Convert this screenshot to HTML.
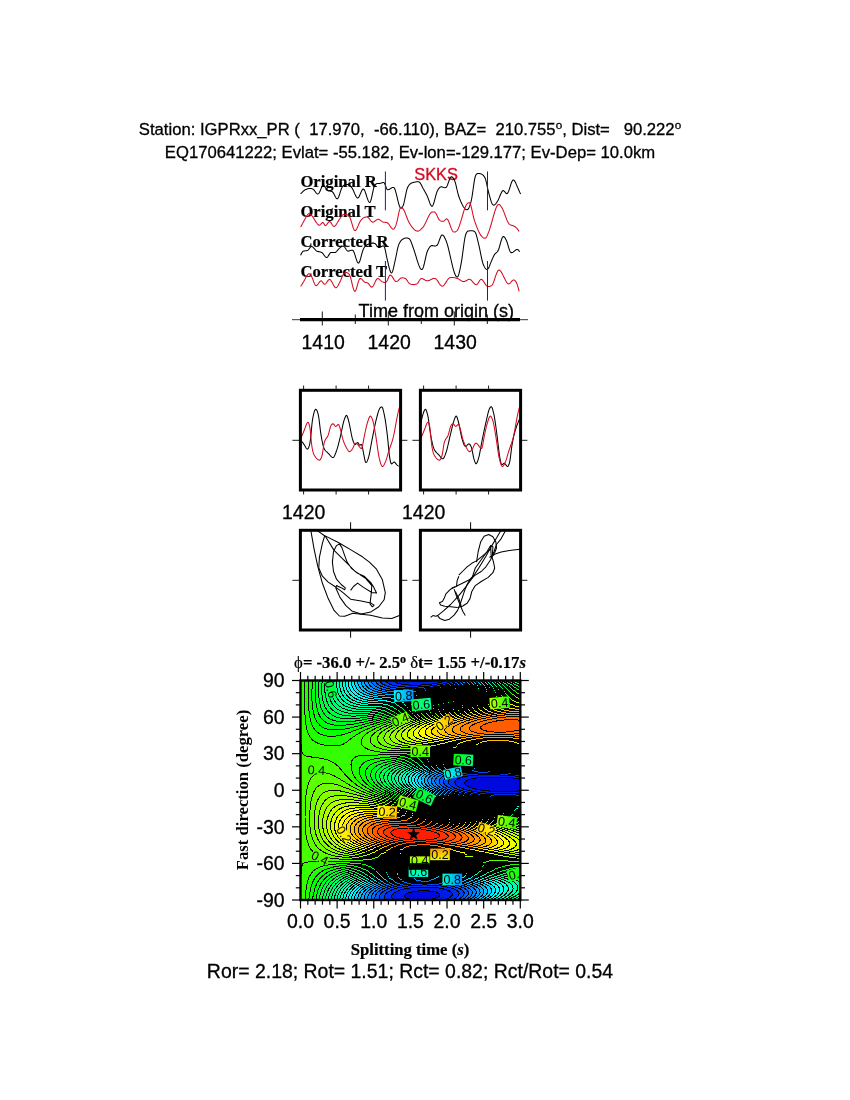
<!DOCTYPE html>
<html><head><meta charset="utf-8"><title>SWS IGPRxx_PR</title>
<style>html,body{margin:0;padding:0;background:#fff}svg{display:block}</style></head>
<body>
<svg width="850" height="1100" viewBox="0 0 850 1100">
<rect x="0" y="0" width="850" height="1100" fill="#ffffff"/>
<text x="410.00" y="134.60" font-family='"Liberation Sans", Helvetica, Arial, sans-serif' font-size="16.67" text-anchor="middle" font-weight="normal" fill="#000" xml:space="preserve" style="white-space:pre"  stroke="#000" stroke-width="0.3">Station: IGPRxx_PR (  17.970,  -66.110), BAZ=  210.755<tspan font-size="11.7" dy="-5.5">o</tspan><tspan dy="5.5">, Dist=   90.222</tspan><tspan font-size="11.7" dy="-5.5">o</tspan></text>
<text x="410.00" y="157.50" font-family='"Liberation Sans", Helvetica, Arial, sans-serif' font-size="16.67" text-anchor="middle" font-weight="normal" fill="#000" xml:space="preserve" style="white-space:pre"  stroke="#000" stroke-width="0.3">EQ170641222; Evlat= -55.182, Ev-lon=-129.177; Ev-Dep= 10.0km</text>
<text x="300.40" y="186.80" font-family='"Liberation Serif", "Times New Roman", serif' font-size="16.67" text-anchor="start" font-weight="bold" fill="#000" xml:space="preserve" style="white-space:pre"  stroke="#000" stroke-width="0.2">Original R</text>
<text x="300.40" y="216.80" font-family='"Liberation Serif", "Times New Roman", serif' font-size="16.67" text-anchor="start" font-weight="bold" fill="#000" xml:space="preserve" style="white-space:pre"  stroke="#000" stroke-width="0.2">Original T</text>
<text x="300.40" y="246.80" font-family='"Liberation Serif", "Times New Roman", serif' font-size="16.67" text-anchor="start" font-weight="bold" fill="#000" xml:space="preserve" style="white-space:pre"  stroke="#000" stroke-width="0.2">Corrected R</text>
<text x="300.40" y="276.80" font-family='"Liberation Serif", "Times New Roman", serif' font-size="16.67" text-anchor="start" font-weight="bold" fill="#000" xml:space="preserve" style="white-space:pre"  stroke="#000" stroke-width="0.2">Corrected T</text>
<text x="436.10" y="179.80" font-family='"Liberation Sans", Helvetica, Arial, sans-serif' font-size="16.4" text-anchor="middle" font-weight="normal" fill="#d40a22" xml:space="preserve" style="white-space:pre"  stroke="#d40a22" stroke-width="0.3">SKKS</text>
<polyline points="300.6,193.9 301.1,193.4 301.6,192.9 302.1,192.3 302.6,191.8 303.1,191.3 303.6,190.9 304.1,190.5 304.6,190.1 305.1,189.8 305.6,189.6 306.1,189.4 306.6,189.2 307.1,189.0 307.6,188.8 308.1,188.7 308.6,188.6 309.1,188.5 309.6,188.5 310.1,188.4 310.6,188.5 311.1,188.5 311.6,188.6 312.1,188.7 312.6,188.9 313.1,189.2 313.6,189.6 314.1,190.2 314.6,190.8 315.1,191.5 315.6,192.2 316.1,192.8 316.6,193.3 317.1,193.7 317.6,193.9 318.1,193.9 318.6,193.6 319.1,193.0 319.6,192.1 320.1,191.0 320.6,189.7 321.1,188.5 321.6,187.4 322.1,186.5 322.6,185.8 323.1,185.4 323.6,185.5 324.1,185.8 324.6,186.4 325.1,187.2 325.6,188.0 326.1,188.8 326.6,189.6 327.1,190.2 327.6,190.5 328.1,190.7 328.6,190.9 329.1,191.0 329.6,191.0 330.1,191.1 330.6,191.1 331.1,191.2 331.6,191.4 332.1,191.6 332.6,192.0 333.1,192.6 333.6,193.4 334.1,194.3 334.6,195.3 335.1,196.3 335.6,197.2 336.1,198.0 336.6,198.6 337.1,198.8 337.6,198.7 338.1,198.0 338.6,197.0 339.1,195.8 339.6,194.3 340.1,192.7 340.6,191.1 341.1,189.5 341.6,188.2 342.1,187.1 342.6,186.4 343.1,185.9 343.6,185.5 344.1,185.1 344.6,184.9 345.1,184.7 345.6,184.6 346.1,184.5 346.6,184.5 347.1,184.5 347.6,184.6 348.1,184.7 348.6,185.0 349.1,185.2 349.6,185.6 350.1,186.0 350.6,186.4 351.1,186.9 351.6,187.5 352.1,188.1 352.6,188.9 353.1,189.9 353.6,191.0 354.1,192.2 354.6,193.4 355.1,194.5 355.6,195.6 356.1,196.5 356.6,197.3 357.1,197.8 357.6,198.0 358.1,197.9 358.6,197.4 359.1,196.6 359.6,195.6 360.1,194.4 360.6,193.2 361.1,192.1 361.6,191.0 362.1,190.0 362.6,189.4 363.1,189.0 363.6,189.1 364.1,189.6 364.6,190.4 365.1,191.6 365.6,193.0 366.1,194.5 366.6,196.1 367.1,197.7 367.6,199.1 368.1,200.4 368.6,201.5 369.1,202.1 369.6,202.4 370.1,202.2 370.6,201.2 371.1,199.6 371.6,197.6 372.1,195.3 372.6,192.9 373.1,190.6 373.6,188.5 374.1,186.7 374.6,185.6 375.1,184.9 375.6,184.4 376.1,184.0 376.6,183.8 377.1,183.6 377.6,183.5 378.1,183.5 378.6,183.5 379.1,183.4 379.6,183.4 380.1,183.4 380.6,183.2 381.1,183.1 381.6,182.9 382.1,182.7 382.6,182.5 383.1,182.5 383.6,182.5 384.1,182.7 384.6,183.5 385.1,184.6 385.6,185.9 386.1,187.3 386.6,188.5 387.1,189.4 387.6,189.7 388.1,189.7 388.6,189.6 389.1,189.4 389.6,189.2 390.1,188.8 390.6,188.5 391.1,188.2 391.6,187.9 392.1,187.6 392.6,187.4 393.1,187.4 393.6,187.4 394.1,187.7 394.6,188.5 395.1,189.7 395.6,191.3 396.1,193.1 396.6,195.1 397.1,197.2 397.6,199.3 398.1,201.4 398.6,203.3 399.1,205.0 399.6,206.4 400.1,207.5 400.6,208.1 401.1,208.2 401.6,208.0 402.1,207.4 402.6,206.6 403.1,205.7 403.6,204.3 404.1,202.4 404.6,200.2 405.1,197.7 405.6,195.3 406.1,192.8 406.6,190.7 407.1,188.8 407.6,187.5 408.1,186.5 408.6,185.7 409.1,185.0 409.6,184.4 410.1,184.0 410.6,183.6 411.1,183.3 411.6,183.0 412.1,182.8 412.6,182.7 413.1,182.6 413.6,182.5 414.1,182.3 414.6,182.2 415.1,182.1 415.6,181.9 416.1,181.8 416.6,181.8 417.1,181.7 417.6,181.7 418.1,181.7 418.6,181.8 419.1,181.9 419.6,182.3 420.1,182.9 420.6,183.7 421.1,184.6 421.6,185.6 422.1,186.6 422.6,187.6 423.1,188.5 423.6,189.3 424.1,190.2 424.6,191.1 425.1,192.0 425.6,192.9 426.1,193.8 426.6,194.8 427.1,195.8 427.6,196.9 428.1,198.2 428.6,199.6 429.1,201.0 429.6,202.4 430.1,203.7 430.6,204.8 431.1,205.7 431.6,206.2 432.1,206.3 432.6,205.8 433.1,204.9 433.6,203.6 434.1,202.0 434.6,200.2 435.1,198.3 435.6,196.4 436.1,194.6 436.6,192.9 437.1,191.5 437.6,190.4 438.1,189.5 438.6,188.8 439.1,188.1 439.6,187.6 440.1,187.2 440.6,186.9 441.1,186.8 441.6,186.8 442.1,187.0 442.6,187.1 443.1,187.3 443.6,187.4 444.1,187.6 444.6,187.7 445.1,187.7 445.6,187.6 446.1,187.4 446.6,186.8 447.1,185.9 447.6,184.7 448.1,183.3 448.6,181.9 449.1,180.5 449.6,179.2 450.1,178.1 450.6,177.3 451.1,176.8 451.6,176.8 452.1,177.0 452.6,177.4 453.1,177.9 453.6,178.7 454.1,179.5 454.6,180.6 455.1,182.0 455.6,183.7 456.1,185.7 456.6,187.8 457.1,190.0 457.6,192.1 458.1,194.1 458.6,195.8 459.1,197.2 459.6,198.6 460.1,199.8 460.6,201.1 461.1,202.2 461.6,203.3 462.1,204.4 462.6,205.3 463.1,206.2 463.6,207.0 464.1,207.7 464.6,208.3 465.1,208.8 465.6,209.2 466.1,209.5 466.6,209.7 467.1,209.7 467.6,209.6 468.1,209.2 468.6,208.4 469.1,207.4 469.6,206.2 470.1,204.7 470.6,203.1 471.1,201.3 471.6,199.0 472.1,196.2 472.6,192.8 473.1,189.3 473.6,185.8 474.1,182.4 474.6,179.4 475.1,177.1 475.6,175.5 476.1,174.7 476.6,174.1 477.1,173.7 477.6,173.5 478.1,173.5 478.6,173.5 479.1,173.5 479.6,173.6 480.1,173.7 480.6,173.8 481.1,173.9 481.6,174.1 482.1,174.4 482.6,174.8 483.1,175.2 483.6,175.7 484.1,176.4 484.6,177.1 485.1,178.0 485.6,179.4 486.1,181.3 486.6,183.5 487.1,185.8 487.6,188.2 488.1,190.5 488.6,192.5 489.1,194.3 489.6,196.1 490.1,197.9 490.6,199.6 491.1,201.2 491.6,202.5 492.1,203.7 492.6,204.5 493.1,205.0 493.6,205.1 494.1,205.1 494.6,204.8 495.1,204.4 495.6,203.9 496.1,203.3 496.6,202.6 497.1,201.8 497.6,201.0 498.1,200.2 498.6,199.1 499.1,198.0 499.6,196.8 500.1,195.5 500.6,194.3 501.1,193.2 501.6,192.2 502.1,191.4 502.6,190.8 503.1,190.6 503.6,190.7 504.1,191.1 504.6,191.6 505.1,192.2 505.6,192.8 506.1,193.3 506.6,193.6 507.1,193.6 507.6,193.2 508.1,192.4 508.6,191.3 509.1,189.9 509.6,188.4 510.1,186.8 510.6,185.2 511.1,183.7 511.6,182.3 512.1,181.2 512.6,180.3 513.1,179.9 513.6,179.9 514.1,180.3 514.6,180.9 515.1,181.8 515.6,182.8 516.1,183.9 516.6,185.1 517.1,186.2 517.6,187.4 518.1,188.5 518.6,189.7 519.1,190.8 519.6,191.9 520.1,193.0 520.6,194.0" fill="none" stroke="#000" stroke-width="1.05" stroke-linejoin="round" />
<polyline points="300.6,227.1 301.1,226.2 301.6,225.3 302.1,224.4 302.6,223.5 303.1,222.5 303.6,221.6 304.1,220.7 304.6,219.8 305.1,218.8 305.6,217.9 306.1,216.9 306.6,216.1 307.1,215.3 307.6,214.6 308.1,214.1 308.6,213.7 309.1,213.6 309.6,213.7 310.1,213.9 310.6,214.3 311.1,214.8 311.6,215.4 312.1,216.0 312.6,216.6 313.1,217.3 313.6,218.1 314.1,218.9 314.6,219.8 315.1,220.6 315.6,221.4 316.1,222.1 316.6,222.8 317.1,223.5 317.6,224.1 318.1,224.6 318.6,225.1 319.1,225.3 319.6,225.3 320.1,225.0 320.6,224.5 321.1,223.9 321.6,223.3 322.1,222.8 322.6,222.5 323.1,222.5 323.6,223.1 324.1,224.0 324.6,224.9 325.1,225.5 325.6,225.6 326.1,225.3 326.6,224.8 327.1,224.1 327.6,223.4 328.1,222.7 328.6,222.1 329.1,221.6 329.6,221.5 330.1,221.7 330.6,222.2 331.1,222.9 331.6,223.7 332.1,224.6 332.6,225.3 333.1,225.9 333.6,226.3 334.1,226.4 334.6,226.3 335.1,225.9 335.6,225.4 336.1,224.7 336.6,224.0 337.1,223.1 337.6,222.3 338.1,221.4 338.6,220.5 339.1,219.7 339.6,219.0 340.1,218.3 340.6,217.5 341.1,216.8 341.6,216.1 342.1,215.5 342.6,215.0 343.1,214.7 343.6,214.5 344.1,214.4 344.6,214.3 345.1,214.3 345.6,214.3 346.1,214.4 346.6,214.5 347.1,214.7 347.6,215.0 348.1,215.3 348.6,215.8 349.1,216.3 349.6,216.9 350.1,217.9 350.6,219.3 351.1,220.8 351.6,222.5 352.1,224.2 352.6,225.9 353.1,227.5 353.6,228.8 354.1,229.8 354.6,230.4 355.1,230.6 355.6,230.4 356.1,229.9 356.6,229.1 357.1,228.1 357.6,227.0 358.1,225.9 358.6,224.7 359.1,223.5 359.6,222.4 360.1,221.4 360.6,220.7 361.1,220.1 361.6,219.5 362.1,219.0 362.6,218.6 363.1,218.2 363.6,217.8 364.1,217.6 364.6,217.3 365.1,217.2 365.6,217.0 366.1,217.0 366.6,217.0 367.1,217.1 367.6,217.2 368.1,217.5 368.6,217.9 369.1,218.5 369.6,219.1 370.1,219.8 370.6,220.5 371.1,221.1 371.6,221.6 372.1,222.0 372.6,222.1 373.1,222.1 373.6,221.9 374.1,221.7 374.6,221.3 375.1,221.0 375.6,220.6 376.1,220.2 376.6,219.9 377.1,219.6 377.6,219.4 378.1,219.3 378.6,219.3 379.1,219.5 379.6,219.7 380.1,220.1 380.6,220.4 381.1,220.8 381.6,221.2 382.1,221.6 382.6,221.9 383.1,222.1 383.6,222.2 384.1,222.3 384.6,222.3 385.1,222.3 385.6,222.4 386.1,222.4 386.6,222.5 387.1,222.7 387.6,222.9 388.1,223.3 388.6,223.9 389.1,224.5 389.6,225.3 390.1,226.1 390.6,226.8 391.1,227.6 391.6,228.2 392.1,228.7 392.6,229.1 393.1,229.2 393.6,229.1 394.1,228.6 394.6,227.9 395.1,227.0 395.6,225.9 396.1,224.7 396.6,223.1 397.1,221.1 397.6,218.8 398.1,216.4 398.6,214.0 399.1,211.7 399.6,209.8 400.1,208.3 400.6,207.4 401.1,207.2 401.6,207.4 402.1,207.7 402.6,208.3 403.1,208.9 403.6,209.6 404.1,210.6 404.6,211.6 405.1,212.8 405.6,214.1 406.1,215.4 406.6,216.7 407.1,218.0 407.6,219.3 408.1,220.5 408.6,221.6 409.1,222.5 409.6,223.4 410.1,224.2 410.6,224.9 411.1,225.7 411.6,226.4 412.1,227.1 412.6,227.7 413.1,228.3 413.6,228.9 414.1,229.4 414.6,229.8 415.1,230.2 415.6,230.5 416.1,230.8 416.6,231.0 417.1,231.1 417.6,231.1 418.1,231.0 418.6,230.9 419.1,230.7 419.6,230.4 420.1,230.1 420.6,229.7 421.1,229.2 421.6,228.7 422.1,228.2 422.6,227.6 423.1,227.1 423.6,226.4 424.1,225.6 424.6,224.7 425.1,223.7 425.6,222.7 426.1,221.7 426.6,220.6 427.1,219.5 427.6,218.4 428.1,217.3 428.6,216.3 429.1,215.4 429.6,214.5 430.1,213.8 430.6,213.1 431.1,212.6 431.6,212.2 432.1,212.0 432.6,211.9 433.1,211.9 433.6,211.9 434.1,211.9 434.6,212.0 435.1,212.4 435.6,213.0 436.1,213.8 436.6,214.8 437.1,215.8 437.6,216.9 438.1,217.9 438.6,218.9 439.1,219.7 439.6,220.2 440.1,220.6 440.6,220.9 441.1,221.1 441.6,221.2 442.1,221.3 442.6,221.3 443.1,221.3 443.6,221.2 444.1,220.9 444.6,220.5 445.1,220.0 445.6,219.5 446.1,219.1 446.6,218.9 447.1,219.1 447.6,219.5 448.1,220.3 448.6,221.3 449.1,222.5 449.6,223.8 450.1,225.2 450.6,226.5 451.1,227.9 451.6,229.1 452.1,230.2 452.6,231.0 453.1,231.6 453.6,231.9 454.1,232.0 454.6,232.0 455.1,231.9 455.6,231.7 456.1,231.4 456.6,231.1 457.1,230.6 457.6,229.9 458.1,228.9 458.6,227.8 459.1,226.6 459.6,225.2 460.1,223.7 460.6,222.1 461.1,220.4 461.6,218.7 462.1,217.0 462.6,215.3 463.1,213.6 463.6,211.9 464.1,210.4 464.6,208.9 465.1,207.5 465.6,206.3 466.1,205.3 466.6,204.4 467.1,203.8 467.6,203.4 468.1,203.0 468.6,202.8 469.1,202.7 469.6,202.8 470.1,203.4 470.6,204.6 471.1,206.3 471.6,208.3 472.1,210.6 472.6,213.0 473.1,215.3 473.6,217.5 474.1,219.3 474.6,220.8 475.1,222.3 475.6,223.7 476.1,225.1 476.6,226.4 477.1,227.7 477.6,228.9 478.1,230.1 478.6,231.2 479.1,232.2 479.6,233.2 480.1,234.1 480.6,234.9 481.1,235.6 481.6,236.3 482.1,236.8 482.6,237.3 483.1,237.7 483.6,238.0 484.1,238.1 484.6,238.2 485.1,238.2 485.6,238.0 486.1,237.7 486.6,237.0 487.1,235.9 487.6,234.7 488.1,233.4 488.6,232.1 489.1,230.9 489.6,229.4 490.1,227.9 490.6,226.3 491.1,224.5 491.6,222.8 492.1,220.9 492.6,219.1 493.1,217.3 493.6,215.5 494.1,213.8 494.6,212.1 495.1,210.6 495.6,209.2 496.1,207.9 496.6,206.8 497.1,205.8 497.6,205.1 498.1,204.6 498.6,204.4 499.1,204.5 499.6,204.7 500.1,205.2 500.6,205.8 501.1,206.5 501.6,207.2 502.1,208.1 502.6,209.0 503.1,210.1 503.6,211.3 504.1,212.6 504.6,213.9 505.1,215.2 505.6,216.6 506.1,217.9 506.6,219.2 507.1,220.4 507.6,221.5 508.1,222.4 508.6,223.3 509.1,223.9 509.6,224.4 510.1,224.7 510.6,224.9 511.1,225.1 511.6,225.3 512.1,225.4 512.6,225.6 513.1,225.8 513.6,226.0 514.1,226.2 514.6,226.5 515.1,226.8 515.6,227.1 516.1,227.6 516.6,228.0 517.1,228.6 517.6,229.2 518.1,229.9 518.6,230.7 519.1,231.5" fill="none" stroke="#d40a22" stroke-width="1.05" stroke-linejoin="round" />
<polyline points="300.6,255.4 301.1,254.3 301.6,253.2 302.1,252.4 302.6,251.7 303.1,251.3 303.6,251.0 304.1,250.9 304.6,250.9 305.1,250.8 305.6,250.8 306.1,250.8 306.6,250.7 307.1,250.6 307.6,250.4 308.1,250.1 308.6,249.5 309.1,248.9 309.6,248.2 310.1,247.6 310.6,247.0 311.1,246.6 311.6,246.5 312.1,246.6 312.6,246.9 313.1,247.3 313.6,247.8 314.1,248.3 314.6,248.9 315.1,249.5 315.6,250.1 316.1,250.6 316.6,251.0 317.1,251.2 317.6,251.4 318.1,251.6 318.6,251.6 319.1,251.7 319.6,251.8 320.1,251.9 320.6,252.0 321.1,252.2 321.6,252.4 322.1,252.7 322.6,253.2 323.1,253.8 323.6,254.5 324.1,255.2 324.6,255.9 325.1,256.5 325.6,257.0 326.1,257.4 326.6,257.5 327.1,257.4 327.6,256.9 328.1,256.2 328.6,255.4 329.1,254.6 329.6,253.8 330.1,253.1 330.6,252.6 331.1,252.5 331.6,252.4 332.1,252.4 332.6,252.4 333.1,252.4 333.6,252.5 334.1,252.5 334.6,252.5 335.1,252.5 335.6,252.4 336.1,252.0 336.6,251.5 337.1,250.9 337.6,250.3 338.1,249.6 338.6,249.1 339.1,248.6 339.6,248.2 340.1,247.7 340.6,247.3 341.1,246.9 341.6,246.6 342.1,246.3 342.6,246.2 343.1,246.1 343.6,246.2 344.1,246.5 344.6,247.0 345.1,247.7 345.6,248.5 346.1,249.3 346.6,250.0 347.1,250.6 347.6,251.0 348.1,251.1 348.6,251.1 349.1,250.9 349.6,250.8 350.1,250.6 350.6,250.4 351.1,250.3 351.6,250.2 352.1,250.2 352.6,250.3 353.1,250.6 353.6,251.4 354.1,252.5 354.6,253.9 355.1,255.4 355.6,257.1 356.1,258.7 356.6,260.1 357.1,261.4 357.6,262.4 358.1,263.0 358.6,263.1 359.1,262.6 359.6,261.6 360.1,260.2 360.6,258.5 361.1,256.6 361.6,254.7 362.1,252.8 362.6,251.1 363.1,249.7 363.6,248.6 364.1,247.7 364.6,247.0 365.1,246.3 365.6,245.8 366.1,245.3 366.6,245.0 367.1,244.8 367.6,244.5 368.1,244.3 368.6,244.1 369.1,243.9 369.6,243.8 370.1,243.6 370.6,243.4 371.1,243.3 371.6,243.2 372.1,243.1 372.6,243.1 373.1,243.1 373.6,243.1 374.1,243.2 374.6,243.4 375.1,243.6 375.6,244.1 376.1,244.7 376.6,245.4 377.1,246.1 377.6,246.7 378.1,247.2 378.6,247.5 379.1,247.6 379.6,247.5 380.1,247.3 380.6,247.0 381.1,246.7 381.6,246.4 382.1,246.1 382.6,246.0 383.1,245.9 383.6,246.0 384.1,246.4 384.6,247.5 385.1,249.3 385.6,251.6 386.1,254.1 386.6,256.6 387.1,259.0 387.6,261.1 388.1,263.2 388.6,265.3 389.1,267.3 389.6,269.2 390.1,270.8 390.6,272.0 391.1,272.8 391.6,273.0 392.1,272.5 392.6,271.4 393.1,269.7 393.6,267.7 394.1,265.4 394.6,263.0 395.1,260.7 395.6,258.5 396.1,256.0 396.6,253.5 397.1,251.0 397.6,248.7 398.1,246.6 398.6,245.1 399.1,243.9 399.6,242.8 400.1,242.0 400.6,241.2 401.1,240.6 401.6,240.0 402.1,239.6 402.6,239.3 403.1,239.0 403.6,238.8 404.1,238.5 404.6,238.3 405.1,238.2 405.6,238.1 406.1,238.0 406.6,238.0 407.1,238.0 407.6,238.1 408.1,238.3 408.6,238.5 409.1,238.7 409.6,239.2 410.1,239.8 410.6,240.8 411.1,241.9 411.6,243.2 412.1,244.6 412.6,246.0 413.1,247.5 413.6,248.9 414.1,250.3 414.6,251.8 415.1,253.4 415.6,255.1 416.1,256.7 416.6,258.4 417.1,260.1 417.6,261.7 418.1,263.2 418.6,264.6 419.1,265.9 419.6,267.1 420.1,268.0 420.6,268.8 421.1,269.3 421.6,269.5 422.1,269.4 422.6,269.0 423.1,267.9 423.6,266.4 424.1,264.5 424.6,262.4 425.1,260.2 425.6,257.9 426.1,255.7 426.6,253.7 427.1,252.0 427.6,250.8 428.1,249.7 428.6,248.8 429.1,248.0 429.6,247.3 430.1,246.6 430.6,246.2 431.1,245.8 431.6,245.6 432.1,245.6 432.6,245.6 433.1,245.7 433.6,245.8 434.1,245.9 434.6,245.9 435.1,245.9 435.6,245.9 436.1,245.8 436.6,245.6 437.1,245.3 437.6,244.6 438.1,243.5 438.6,242.3 439.1,240.9 439.6,239.5 440.1,238.2 440.6,237.0 441.1,235.9 441.6,235.2 442.1,234.9 442.6,234.9 443.1,235.3 443.6,235.8 444.1,236.6 444.6,237.5 445.1,238.5 445.6,239.6 446.1,240.8 446.6,242.1 447.1,243.7 447.6,245.4 448.1,247.2 448.6,249.2 449.1,251.3 449.6,253.4 450.1,255.6 450.6,257.8 451.1,260.0 451.6,262.2 452.1,264.3 452.6,266.4 453.1,268.3 453.6,270.1 454.1,271.8 454.6,273.3 455.1,274.5 455.6,275.6 456.1,276.3 456.6,276.8 457.1,277.0 457.6,276.9 458.1,276.2 458.6,274.9 459.1,273.2 459.6,271.1 460.1,268.8 460.6,266.3 461.1,263.7 461.6,260.9 462.1,257.7 462.6,254.0 463.1,250.2 463.6,246.4 464.1,242.8 464.6,239.5 465.1,236.8 465.6,234.8 466.1,233.5 466.6,232.5 467.1,231.8 467.6,231.3 468.1,231.1 468.6,231.0 469.1,230.9 469.6,230.8 470.1,230.8 470.6,230.7 471.1,230.7 471.6,230.7 472.1,230.7 472.6,230.8 473.1,230.9 473.6,231.1 474.1,231.3 474.6,231.7 475.1,232.1 475.6,233.0 476.1,234.3 476.6,235.9 477.1,237.8 477.6,239.9 478.1,242.0 478.6,244.1 479.1,246.1 479.6,248.4 480.1,250.8 480.6,253.3 481.1,255.8 481.6,258.2 482.1,260.5 482.6,262.4 483.1,264.0 483.6,265.3 484.1,266.3 484.6,267.2 485.1,268.0 485.6,268.7 486.1,269.1 486.6,269.4 487.1,269.4 487.6,269.2 488.1,268.7 488.6,267.9 489.1,266.9 489.6,265.7 490.1,264.4 490.6,263.1 491.1,261.9 491.6,260.7 492.1,259.5 492.6,258.4 493.1,257.2 493.6,256.2 494.1,255.2 494.6,254.4 495.1,253.7 495.6,253.3 496.1,252.9 496.6,252.5 497.1,252.0 497.6,251.4 498.1,250.6 498.6,249.5 499.1,248.0 499.6,246.3 500.1,244.5 500.6,242.7 501.1,241.0 501.6,239.4 502.1,238.0 502.6,237.1 503.1,236.5 503.6,236.5 504.1,236.8 504.6,237.3 505.1,238.0 505.6,238.9 506.1,239.9 506.6,241.0 507.1,242.3 507.6,243.9 508.1,245.6 508.6,247.3 509.1,248.9 509.6,250.4 510.1,251.5 510.6,252.3 511.1,252.6 511.6,252.6 512.1,252.6 512.6,252.4 513.1,252.1 513.6,251.7 514.1,251.3 514.6,250.9 515.1,250.5 515.6,250.1 516.1,249.8 516.6,249.6 517.1,249.5 517.6,249.6 518.1,249.8 518.6,250.3 519.1,251.0 519.6,251.8" fill="none" stroke="#000" stroke-width="1.05" stroke-linejoin="round" />
<polyline points="300.6,286.4 301.1,285.7 301.6,285.0 302.1,284.2 302.6,283.4 303.1,282.5 303.6,281.7 304.1,280.8 304.6,279.9 305.1,279.0 305.6,278.0 306.1,277.1 306.6,276.2 307.1,275.4 307.6,274.7 308.1,274.1 308.6,273.8 309.1,273.7 309.6,273.9 310.1,274.3 310.6,274.9 311.1,275.7 311.6,276.5 312.1,277.6 312.6,278.8 313.1,280.1 313.6,281.5 314.1,282.7 314.6,283.9 315.1,284.8 315.6,285.4 316.1,285.7 316.6,285.6 317.1,285.2 317.6,284.7 318.1,284.0 318.6,283.3 319.1,282.5 319.6,281.9 320.1,281.3 320.6,280.9 321.1,280.8 321.6,281.0 322.1,281.5 322.6,282.2 323.1,282.9 323.6,283.6 324.1,284.1 324.6,284.3 325.1,284.2 325.6,283.8 326.1,283.3 326.6,282.6 327.1,281.8 327.6,281.1 328.1,280.4 328.6,279.9 329.1,279.5 329.6,279.4 330.1,279.6 330.6,280.0 331.1,280.7 331.6,281.5 332.1,282.4 332.6,283.3 333.1,284.3 333.6,285.3 334.1,286.1 334.6,286.9 335.1,287.4 335.6,287.7 336.1,287.8 336.6,287.5 337.1,287.0 337.6,286.3 338.1,285.5 338.6,284.5 339.1,283.5 339.6,282.5 340.1,281.5 340.6,280.5 341.1,279.3 341.6,278.1 342.1,276.8 342.6,275.7 343.1,274.7 343.6,273.8 344.1,273.2 344.6,272.9 345.1,272.7 345.6,272.6 346.1,272.5 346.6,272.6 347.1,272.7 347.6,272.9 348.1,273.2 348.6,273.6 349.1,274.1 349.6,274.9 350.1,276.1 350.6,277.7 351.1,279.6 351.6,281.7 352.1,283.8 352.6,285.9 353.1,287.8 353.6,289.4 354.1,290.6 354.6,291.3 355.1,291.3 355.6,290.7 356.1,289.6 356.6,288.1 357.1,286.4 357.6,284.6 358.1,282.7 358.6,281.1 359.1,279.8 359.6,278.9 360.1,278.5 360.6,278.5 361.1,278.7 361.6,279.0 362.1,279.5 362.6,280.1 363.1,280.7 363.6,281.2 364.1,281.7 364.6,282.1 365.1,282.3 365.6,282.5 366.1,282.5 366.6,282.6 367.1,282.7 367.6,282.9 368.1,283.2 368.6,283.8 369.1,284.4 369.6,285.1 370.1,285.8 370.6,286.3 371.1,286.8 371.6,287.1 372.1,287.1 372.6,286.7 373.1,286.1 373.6,285.3 374.1,284.3 374.6,283.2 375.1,282.1 375.6,281.0 376.1,280.1 376.6,279.3 377.1,278.8 377.6,278.6 378.1,278.6 378.6,278.8 379.1,279.1 379.6,279.6 380.1,280.0 380.6,280.5 381.1,281.0 381.6,281.4 382.1,281.7 382.6,281.9 383.1,282.1 383.6,282.3 384.1,282.4 384.6,282.5 385.1,282.5 385.6,282.4 386.1,282.1 386.6,281.6 387.1,280.8 387.6,279.7 388.1,278.5 388.6,277.3 389.1,276.3 389.6,275.5 390.1,275.1 390.6,275.1 391.1,275.4 391.6,275.9 392.1,276.5 392.6,277.3 393.1,278.1 393.6,278.9 394.1,279.7 394.6,280.4 395.1,281.0 395.6,281.4 396.1,281.5 396.6,281.5 397.1,281.3 397.6,281.0 398.1,280.6 398.6,280.1 399.1,279.6 399.6,279.1 400.1,278.7 400.6,278.3 401.1,278.0 401.6,277.9 402.1,277.8 402.6,277.8 403.1,277.8 403.6,277.9 404.1,278.0 404.6,278.2 405.1,278.4 405.6,278.6 406.1,279.1 406.6,279.7 407.1,280.4 407.6,281.2 408.1,282.0 408.6,282.7 409.1,283.3 409.6,283.7 410.1,284.0 410.6,284.1 411.1,284.3 411.6,284.4 412.1,284.5 412.6,284.5 413.1,284.6 413.6,284.6 414.1,284.5 414.6,284.5 415.1,284.4 415.6,284.3 416.1,284.2 416.6,284.0 417.1,283.7 417.6,283.3 418.1,282.6 418.6,281.9 419.1,281.0 419.6,280.3 420.1,279.5 420.6,279.0 421.1,278.6 421.6,278.5 422.1,278.5 422.6,278.7 423.1,278.9 423.6,279.2 424.1,279.5 424.6,279.8 425.1,280.1 425.6,280.4 426.1,280.6 426.6,280.8 427.1,280.8 427.6,280.8 428.1,280.7 428.6,280.5 429.1,280.4 429.6,280.2 430.1,279.9 430.6,279.7 431.1,279.4 431.6,279.2 432.1,279.0 432.6,278.8 433.1,278.6 433.6,278.5 434.1,278.4 434.6,278.4 435.1,278.5 435.6,278.7 436.1,279.0 436.6,279.5 437.1,280.1 437.6,280.8 438.1,281.6 438.6,282.4 439.1,283.2 439.6,284.0 440.1,284.7 440.6,285.3 441.1,285.7 441.6,286.1 442.1,286.2 442.6,286.1 443.1,285.9 443.6,285.5 444.1,285.0 444.6,284.3 445.1,283.6 445.6,282.9 446.1,282.1 446.6,281.3 447.1,280.5 447.6,279.8 448.1,279.1 448.6,278.6 449.1,278.1 449.6,277.8 450.1,277.7 450.6,277.5 451.1,277.5 451.6,277.4 452.1,277.4 452.6,277.4 453.1,277.4 453.6,277.5 454.1,277.6 454.6,277.7 455.1,277.8 455.6,277.9 456.1,278.1 456.6,278.2 457.1,278.4 457.6,278.6 458.1,278.8 458.6,279.1 459.1,279.4 459.6,279.7 460.1,280.0 460.6,280.3 461.1,280.6 461.6,280.9 462.1,281.2 462.6,281.4 463.1,281.5 463.6,281.6 464.1,281.6 464.6,281.5 465.1,281.3 465.6,281.1 466.1,280.8 466.6,280.5 467.1,280.2 467.6,279.9 468.1,279.6 468.6,279.4 469.1,279.3 469.6,279.3 470.1,279.4 470.6,279.7 471.1,280.1 471.6,280.6 472.1,281.2 472.6,281.7 473.1,282.3 473.6,282.9 474.1,283.5 474.6,283.9 475.1,284.3 475.6,284.6 476.1,284.7 476.6,284.7 477.1,284.4 477.6,283.8 478.1,283.1 478.6,282.3 479.1,281.5 479.6,280.7 480.1,280.0 480.6,279.5 481.1,279.3 481.6,279.4 482.1,279.7 482.6,280.1 483.1,280.7 483.6,281.5 484.1,282.3 484.6,283.1 485.1,283.9 485.6,284.6 486.1,285.3 486.6,285.8 487.1,286.2 487.6,286.3 488.1,286.5 488.6,286.5 489.1,286.5 489.6,286.5 490.1,286.3 490.6,286.1 491.1,285.9 491.6,285.6 492.1,285.1 492.6,284.4 493.1,283.3 493.6,282.1 494.1,280.7 494.6,279.3 495.1,277.7 495.6,276.2 496.1,274.7 496.6,273.4 497.1,272.2 497.6,271.2 498.1,270.5 498.6,270.1 499.1,270.1 499.6,270.2 500.1,270.6 500.6,271.1 501.1,271.8 501.6,272.6 502.1,273.5 502.6,274.4 503.1,275.5 503.6,276.5 504.1,277.6 504.6,278.6 505.1,279.6 505.6,280.6 506.1,281.5 506.6,282.3 507.1,282.9 507.6,283.4 508.1,283.8 508.6,283.9 509.1,283.8 509.6,283.5 510.1,283.1 510.6,282.6 511.1,282.0 511.6,281.4 512.1,280.9 512.6,280.4 513.1,280.1 513.6,280.0 514.1,280.1 514.6,280.3 515.1,280.7 515.6,281.3 516.1,282.1 516.6,283.1 517.1,284.3 517.6,285.8 518.1,287.4 518.6,289.3 519.1,291.4" fill="none" stroke="#d40a22" stroke-width="1.05" stroke-linejoin="round" />
<line x1="385.40" y1="171.50" x2="385.40" y2="210.30" stroke="#1a1aa8" stroke-width="1.0" />
<line x1="385.40" y1="261.00" x2="385.40" y2="300.60" stroke="#1a1aa8" stroke-width="1.0" />
<line x1="487.50" y1="171.50" x2="487.50" y2="210.30" stroke="#1a1aa8" stroke-width="1.0" />
<line x1="487.50" y1="261.00" x2="487.50" y2="300.60" stroke="#1a1aa8" stroke-width="1.0" />
<line x1="292.00" y1="319.70" x2="528.00" y2="319.70" stroke="#000" stroke-width="0.8" />
<line x1="300.00" y1="319.70" x2="520.00" y2="319.70" stroke="#000" stroke-width="3.2" />
<line x1="322.30" y1="311.50" x2="322.30" y2="325.50" stroke="#000" stroke-width="0.9" />
<line x1="355.30" y1="314.50" x2="355.30" y2="324.00" stroke="#000" stroke-width="0.9" />
<line x1="388.30" y1="311.50" x2="388.30" y2="325.50" stroke="#000" stroke-width="0.9" />
<line x1="421.30" y1="314.50" x2="421.30" y2="324.00" stroke="#000" stroke-width="0.9" />
<line x1="454.30" y1="311.50" x2="454.30" y2="325.50" stroke="#000" stroke-width="0.9" />
<line x1="487.30" y1="314.50" x2="487.30" y2="324.00" stroke="#000" stroke-width="0.9" />
<text x="436.30" y="317.30" font-family='"Liberation Sans", Helvetica, Arial, sans-serif' font-size="18" text-anchor="middle" font-weight="normal" fill="#000" xml:space="preserve" style="white-space:pre"  stroke="#000" stroke-width="0.3">Time from origin (s)</text>
<text x="323.20" y="348.60" font-family='"Liberation Sans", Helvetica, Arial, sans-serif' font-size="19.44" text-anchor="middle" font-weight="normal" fill="#000" xml:space="preserve" style="white-space:pre"  stroke="#000" stroke-width="0.3">1410</text>
<text x="389.20" y="348.60" font-family='"Liberation Sans", Helvetica, Arial, sans-serif' font-size="19.44" text-anchor="middle" font-weight="normal" fill="#000" xml:space="preserve" style="white-space:pre"  stroke="#000" stroke-width="0.3">1420</text>
<text x="455.20" y="348.60" font-family='"Liberation Sans", Helvetica, Arial, sans-serif' font-size="19.44" text-anchor="middle" font-weight="normal" fill="#000" xml:space="preserve" style="white-space:pre"  stroke="#000" stroke-width="0.3">1430</text>
<polyline points="300.8,440.6 301.3,441.0 301.8,441.5 302.3,442.0 302.8,442.7 303.3,443.3 303.8,444.1 304.3,444.8 304.8,445.7 305.3,446.6 305.8,447.5 306.3,448.3 306.8,448.8 307.3,449.1 307.8,448.9 308.3,448.3 308.8,447.2 309.3,445.7 309.8,443.7 310.3,440.7 310.8,436.2 311.3,430.9 311.8,425.6 312.3,421.2 312.8,418.2 313.3,415.6 313.8,413.4 314.3,411.6 314.8,410.3 315.3,409.5 315.8,409.3 316.3,409.6 316.8,410.3 317.3,411.4 317.8,412.9 318.3,414.8 318.8,417.5 319.3,421.3 319.8,425.6 320.3,429.8 320.8,433.6 321.3,436.6 321.8,439.4 322.3,442.0 322.8,444.3 323.3,446.2 323.8,447.7 324.3,448.8 324.8,449.7 325.3,450.4 325.8,451.0 326.3,451.5 326.8,452.0 327.3,452.4 327.8,452.9 328.3,453.3 328.8,453.8 329.3,454.4 329.8,455.0 330.3,455.6 330.8,456.1 331.3,456.7 331.8,457.1 332.3,457.4 332.8,457.5 333.3,457.5 333.8,457.1 334.3,456.3 334.8,455.3 335.3,454.0 335.8,452.7 336.3,451.3 336.8,449.9 337.3,448.3 337.8,446.6 338.3,444.8 338.8,442.8 339.3,440.9 339.8,438.8 340.3,436.8 340.8,434.6 341.3,432.3 341.8,429.9 342.3,427.6 342.8,425.2 343.3,423.1 343.8,421.2 344.3,419.6 344.8,418.2 345.3,416.9 345.8,415.9 346.3,415.4 346.8,415.6 347.3,416.5 347.8,418.0 348.3,419.7 348.8,421.6 349.3,423.7 349.8,426.1 350.3,428.7 350.8,431.4 351.3,434.0 351.8,436.3 352.3,438.4 352.8,440.0 353.3,441.5 353.8,442.7 354.3,443.7 354.8,444.4 355.3,444.5 355.8,444.2 356.3,443.7 356.8,443.1 357.3,442.7 357.8,442.6 358.3,443.1 358.8,444.0 359.3,444.9 359.8,445.2 360.3,445.0 360.8,444.6 361.3,444.4 361.8,444.8 362.3,446.5 362.8,449.1 363.3,452.0 363.8,454.6 364.3,457.1 364.8,459.6 365.3,461.5 365.8,462.5 366.3,462.5 366.8,462.0 367.3,460.9 367.8,459.6 368.3,458.2 368.8,456.4 369.3,454.3 369.8,451.8 370.3,449.2 370.8,446.5 371.3,443.7 371.8,441.0 372.3,438.3 372.8,435.8 373.3,433.3 373.8,430.8 374.3,428.4 374.8,426.0 375.3,423.6 375.8,421.4 376.3,419.4 376.8,417.4 377.3,415.5 377.8,413.7 378.3,411.9 378.8,410.4 379.3,409.2 379.8,408.3 380.3,407.7 380.8,407.2 381.3,407.0 381.8,406.9 382.3,407.3 382.8,408.5 383.3,410.3 383.8,412.5 384.3,414.8 384.8,417.3 385.3,420.2 385.8,423.5 386.3,427.1 386.8,430.9 387.3,435.1 387.8,439.6 388.3,444.9 388.8,450.2 389.3,454.8 389.8,458.1 390.3,460.8 390.8,462.8 391.3,463.8 391.8,463.9 392.3,463.5 392.8,463.0 393.3,462.4 393.8,462.1 394.3,462.0 394.8,462.4 395.3,462.9 395.8,463.6 396.3,464.3 396.8,464.8 397.3,465.2 397.8,465.6 398.3,465.9 398.8,466.0" fill="none" stroke="#000" stroke-width="1.05" stroke-linejoin="round" />
<polyline points="300.8,438.1 301.3,437.2 301.8,436.1 302.3,435.0 302.8,433.8 303.3,432.6 303.8,431.3 304.3,430.0 304.8,428.7 305.3,427.4 305.8,426.0 306.3,424.7 306.8,423.6 307.3,422.7 307.8,422.3 308.3,422.5 308.8,423.4 309.3,425.0 309.8,427.2 310.3,430.7 310.8,435.9 311.3,441.5 311.8,445.8 312.3,448.7 312.8,451.1 313.3,452.9 313.8,454.3 314.3,455.3 314.8,456.1 315.3,456.8 315.8,457.5 316.3,458.1 316.8,458.6 317.3,459.1 317.8,459.5 318.3,459.8 318.8,460.0 319.3,460.1 319.8,460.1 320.3,459.7 320.8,458.9 321.3,457.8 321.8,456.3 322.3,454.5 322.8,451.6 323.3,448.0 323.8,444.7 324.3,442.5 324.8,441.0 325.3,439.9 325.8,439.0 326.3,438.3 326.8,437.6 327.3,436.9 327.8,436.0 328.3,434.7 328.8,433.0 329.3,431.1 329.8,429.2 330.3,427.4 330.8,425.9 331.3,425.0 331.8,424.4 332.3,424.0 332.8,423.8 333.3,423.8 333.8,424.3 334.3,424.9 334.8,425.6 335.3,426.2 335.8,426.4 336.3,426.2 336.8,425.7 337.3,425.1 337.8,424.7 338.3,424.5 338.8,424.8 339.3,425.9 339.8,427.4 340.3,429.0 340.8,430.8 341.3,432.9 341.8,435.1 342.3,437.2 342.8,439.1 343.3,440.6 343.8,442.0 344.3,443.3 344.8,444.5 345.3,445.6 345.8,446.5 346.3,447.5 346.8,448.4 347.3,449.3 347.8,450.1 348.3,450.8 348.8,451.3 349.3,451.6 349.8,451.6 350.3,451.3 350.8,450.9 351.3,450.4 351.8,449.8 352.3,449.1 352.8,448.2 353.3,447.1 353.8,446.0 354.3,445.0 354.8,444.1 355.3,443.5 355.8,443.2 356.3,443.2 356.8,443.5 357.3,444.0 357.8,444.6 358.3,445.2 358.8,445.9 359.3,446.6 359.8,447.2 360.3,447.8 360.8,448.3 361.3,448.5 361.8,448.2 362.3,446.8 362.8,444.5 363.3,441.7 363.8,438.9 364.3,436.3 364.8,433.9 365.3,431.5 365.8,429.2 366.3,427.0 366.8,425.0 367.3,423.2 367.8,421.5 368.3,420.0 368.8,418.5 369.3,417.3 369.8,416.4 370.3,416.1 370.8,416.3 371.3,416.9 371.8,417.9 372.3,419.1 372.8,420.5 373.3,422.4 373.8,424.6 374.3,427.3 374.8,430.2 375.3,433.2 375.8,436.2 376.3,439.3 376.8,442.8 377.3,446.4 377.8,449.9 378.3,453.2 378.8,456.1 379.3,458.4 379.8,460.4 380.3,462.3 380.8,463.9 381.3,465.2 381.8,466.1 382.3,466.5 382.8,466.4 383.3,466.0 383.8,465.3 384.3,464.4 384.8,463.3 385.3,462.1 385.8,460.9 386.3,459.5 386.8,457.9 387.3,456.1 387.8,454.4 388.3,452.6 388.8,451.0 389.3,449.5 389.8,448.1 390.3,446.7 390.8,445.3 391.3,443.9 391.8,442.4 392.3,440.8 392.8,439.1 393.3,437.2 393.8,435.0 394.3,432.6 394.8,429.9 395.3,427.1 395.8,424.2 396.3,421.5 396.8,418.9 397.3,416.4 397.8,414.0 398.3,411.7 398.8,409.6 399.3,407.5" fill="none" stroke="#d40a22" stroke-width="1.05" stroke-linejoin="round" />
<polyline points="420.8,423.8 421.3,421.2 421.8,418.8 422.3,416.6 422.8,414.8 423.3,413.2 423.8,411.8 424.3,410.5 424.8,409.7 425.3,409.3 425.8,409.5 426.3,410.4 426.8,411.8 427.3,413.6 427.8,415.7 428.3,418.2 428.8,421.7 429.3,425.6 429.8,429.5 430.3,433.0 430.8,435.9 431.3,438.5 431.8,440.9 432.3,443.2 432.8,445.2 433.3,446.9 433.8,448.4 434.3,449.5 434.8,450.4 435.3,451.2 435.8,451.8 436.3,452.4 436.8,452.9 437.3,453.3 437.8,453.8 438.3,454.3 438.8,454.8 439.3,455.4 439.8,456.0 440.3,456.7 440.8,457.4 441.3,458.0 441.8,458.4 442.3,458.7 442.8,458.8 443.3,458.5 443.8,457.9 444.3,457.0 444.8,455.9 445.3,454.6 445.8,453.2 446.3,451.7 446.8,450.0 447.3,448.1 447.8,446.0 448.3,443.8 448.8,441.6 449.3,439.4 449.8,437.2 450.3,435.1 450.8,433.0 451.3,430.8 451.8,428.6 452.3,426.6 452.8,424.6 453.3,422.8 453.8,421.2 454.3,419.7 454.8,418.2 455.3,417.0 455.8,416.3 456.3,416.1 456.8,416.8 457.3,418.0 457.8,419.7 458.3,421.5 458.8,423.5 459.3,425.7 459.8,428.2 460.3,430.8 460.8,433.4 461.3,435.8 461.8,438.0 462.3,439.7 462.8,441.3 463.3,442.8 463.8,444.2 464.3,445.2 464.8,446.0 465.3,446.5 465.8,446.5 466.3,446.1 466.8,445.6 467.3,445.0 467.8,444.5 468.3,444.1 468.8,443.9 469.3,444.0 469.8,444.4 470.3,445.1 470.8,446.0 471.3,447.1 471.8,448.8 472.3,451.1 472.8,453.7 473.3,456.3 473.8,458.4 474.3,460.1 474.8,461.6 475.3,462.8 475.8,463.6 476.3,463.6 476.8,463.1 477.3,462.1 477.8,460.7 478.3,459.1 478.8,457.4 479.3,455.3 479.8,452.8 480.3,450.2 480.8,447.5 481.3,444.7 481.8,442.0 482.3,439.4 482.8,436.9 483.3,434.5 483.8,432.1 484.3,429.7 484.8,427.4 485.3,425.2 485.8,422.9 486.3,420.8 486.8,418.5 487.3,416.3 487.8,414.1 488.3,412.1 488.8,410.4 489.3,409.1 489.8,408.1 490.3,407.4 490.8,406.8 491.3,406.7 491.8,407.1 492.3,408.2 492.8,409.8 493.3,411.8 493.8,413.9 494.3,416.4 494.8,419.3 495.3,422.6 495.8,426.2 496.3,429.9 496.8,433.7 497.3,437.6 497.8,441.7 498.3,446.1 498.8,450.4 499.3,454.3 499.8,457.5 500.3,460.1 500.8,462.4 501.3,464.0 501.8,464.6 502.3,464.6 502.8,464.3 503.3,463.8 503.8,463.5 504.3,463.3 504.8,463.5 505.3,464.0 505.8,464.7 506.3,465.4 506.8,466.1 507.3,466.4 507.8,466.4 508.3,465.8 508.8,464.8 509.3,463.3 509.8,461.3 510.3,458.1 510.8,454.3 511.3,450.2 511.8,446.4 512.3,443.3 512.8,440.6 513.3,438.1 513.8,435.9 514.3,433.8 514.8,432.0 515.3,430.3 515.8,428.7 516.3,427.3 516.8,425.8 517.3,424.5 517.8,423.2 518.3,421.9 518.8,420.6 519.3,419.4" fill="none" stroke="#000" stroke-width="1.05" stroke-linejoin="round" />
<polyline points="420.8,438.1 421.3,437.2 421.8,436.1 422.3,435.0 422.8,433.8 423.3,432.6 423.8,431.3 424.3,430.0 424.8,428.7 425.3,427.4 425.8,426.0 426.3,424.7 426.8,423.6 427.3,422.7 427.8,422.3 428.3,422.5 428.8,423.4 429.3,425.0 429.8,427.2 430.3,430.7 430.8,435.9 431.3,441.5 431.8,445.8 432.3,448.7 432.8,451.1 433.3,452.9 433.8,454.3 434.3,455.3 434.8,456.1 435.3,456.8 435.8,457.5 436.3,458.1 436.8,458.6 437.3,459.1 437.8,459.5 438.3,459.8 438.8,460.0 439.3,460.1 439.8,460.1 440.3,459.7 440.8,458.9 441.3,457.8 441.8,456.3 442.3,454.5 442.8,451.6 443.3,448.0 443.8,444.7 444.3,442.5 444.8,441.0 445.3,439.9 445.8,439.0 446.3,438.3 446.8,437.6 447.3,436.9 447.8,436.0 448.3,434.7 448.8,433.0 449.3,431.1 449.8,429.2 450.3,427.4 450.8,425.9 451.3,425.0 451.8,424.4 452.3,424.0 452.8,423.8 453.3,423.8 453.8,424.3 454.3,424.9 454.8,425.6 455.3,426.2 455.8,426.4 456.3,426.2 456.8,425.7 457.3,425.1 457.8,424.7 458.3,424.5 458.8,424.8 459.3,425.9 459.8,427.4 460.3,429.0 460.8,430.8 461.3,432.9 461.8,435.1 462.3,437.2 462.8,439.1 463.3,440.6 463.8,442.0 464.3,443.3 464.8,444.5 465.3,445.6 465.8,446.5 466.3,447.5 466.8,448.4 467.3,449.3 467.8,450.1 468.3,450.8 468.8,451.3 469.3,451.6 469.8,451.6 470.3,451.3 470.8,450.9 471.3,450.4 471.8,449.8 472.3,449.1 472.8,448.2 473.3,447.1 473.8,446.0 474.3,445.0 474.8,444.1 475.3,443.5 475.8,443.2 476.3,443.2 476.8,443.5 477.3,444.0 477.8,444.6 478.3,445.2 478.8,445.9 479.3,446.6 479.8,447.2 480.3,447.8 480.8,448.3 481.3,448.5 481.8,448.2 482.3,446.8 482.8,444.5 483.3,441.7 483.8,438.9 484.3,436.3 484.8,433.9 485.3,431.5 485.8,429.2 486.3,427.0 486.8,425.0 487.3,423.2 487.8,421.5 488.3,420.0 488.8,418.5 489.3,417.3 489.8,416.4 490.3,416.1 490.8,416.3 491.3,416.9 491.8,417.9 492.3,419.1 492.8,420.5 493.3,422.4 493.8,424.6 494.3,427.3 494.8,430.2 495.3,433.2 495.8,436.2 496.3,439.3 496.8,442.8 497.3,446.4 497.8,449.9 498.3,453.2 498.8,456.1 499.3,458.4 499.8,460.4 500.3,462.3 500.8,463.9 501.3,465.2 501.8,466.1 502.3,466.5 502.8,466.4 503.3,466.0 503.8,465.3 504.3,464.4 504.8,463.3 505.3,462.1 505.8,460.9 506.3,459.5 506.8,457.9 507.3,456.1 507.8,454.4 508.3,452.6 508.8,451.0 509.3,449.5 509.8,448.1 510.3,446.7 510.8,445.3 511.3,443.9 511.8,442.4 512.3,440.8 512.8,439.1 513.3,437.2 513.8,435.0 514.3,432.6 514.8,429.9 515.3,427.1 515.8,424.2 516.3,421.5 516.8,418.9 517.3,416.4 517.8,414.0 518.3,411.7 518.8,409.6 519.3,407.5" fill="none" stroke="#d40a22" stroke-width="1.05" stroke-linejoin="round" />
<rect x="300.40" y="390.30" width="100.20" height="99.70" fill="none" stroke="#000" stroke-width="3.0"/>
<line x1="303.60" y1="385.50" x2="303.60" y2="390.00" stroke="#000" stroke-width="0.9" />
<line x1="303.60" y1="490.00" x2="303.60" y2="494.50" stroke="#000" stroke-width="0.9" />
<line x1="336.10" y1="385.50" x2="336.10" y2="390.00" stroke="#000" stroke-width="0.9" />
<line x1="336.10" y1="490.00" x2="336.10" y2="494.50" stroke="#000" stroke-width="0.9" />
<line x1="368.60" y1="385.50" x2="368.60" y2="390.00" stroke="#000" stroke-width="0.9" />
<line x1="368.60" y1="490.00" x2="368.60" y2="494.50" stroke="#000" stroke-width="0.9" />
<line x1="292.40" y1="440.30" x2="300.40" y2="440.30" stroke="#000" stroke-width="0.9" />
<line x1="400.40" y1="440.30" x2="407.40" y2="440.30" stroke="#000" stroke-width="0.9" />
<text x="303.70" y="518.90" font-family='"Liberation Sans", Helvetica, Arial, sans-serif' font-size="19.44" text-anchor="middle" font-weight="normal" fill="#000" xml:space="preserve" style="white-space:pre"  stroke="#000" stroke-width="0.3">1420</text>
<rect x="420.40" y="390.30" width="100.20" height="99.70" fill="none" stroke="#000" stroke-width="3.0"/>
<line x1="423.60" y1="385.50" x2="423.60" y2="390.00" stroke="#000" stroke-width="0.9" />
<line x1="423.60" y1="490.00" x2="423.60" y2="494.50" stroke="#000" stroke-width="0.9" />
<line x1="456.10" y1="385.50" x2="456.10" y2="390.00" stroke="#000" stroke-width="0.9" />
<line x1="456.10" y1="490.00" x2="456.10" y2="494.50" stroke="#000" stroke-width="0.9" />
<line x1="488.60" y1="385.50" x2="488.60" y2="390.00" stroke="#000" stroke-width="0.9" />
<line x1="488.60" y1="490.00" x2="488.60" y2="494.50" stroke="#000" stroke-width="0.9" />
<line x1="412.40" y1="440.30" x2="420.40" y2="440.30" stroke="#000" stroke-width="0.9" />
<line x1="520.40" y1="440.30" x2="527.40" y2="440.30" stroke="#000" stroke-width="0.9" />
<text x="423.70" y="518.90" font-family='"Liberation Sans", Helvetica, Arial, sans-serif' font-size="19.44" text-anchor="middle" font-weight="normal" fill="#000" xml:space="preserve" style="white-space:pre"  stroke="#000" stroke-width="0.3">1420</text>
<clipPath id="c1"><rect x="300.4" y="530.3" width="100.2" height="99.7"/></clipPath>
<clipPath id="c2"><rect x="420.4" y="530.3" width="100.2" height="99.7"/></clipPath>
<polyline points="350.6,590.4 353.5,586.5 357.6,583.1 363.5,587.4 371.8,592.5 376.5,593.1 373.5,586.8 370.6,582.4 364.1,576.2 357.6,573.3 351.2,568.0 347.1,562.1 344.1,553.9 341.8,547.4 339.4,543.9 336.5,545.6 333.5,551.5 332.4,562.1 333.5,571.5 336.5,579.2 341.2,584.5 345.3,587.8 344.7,589.8 340.6,587.4 336.5,585.6 335.9,588.2 340.0,597.4 345.9,605.6 351.8,610.9 361.2,613.9 370.6,612.1 378.8,606.8 384.1,599.8 385.3,592.7 382.4,579.8 376.5,569.2 369.4,562.1 362.4,556.8 351.8,550.4 338.8,542.7 324.7,535.6 322.4,543.3 319.4,557.4 318.8,568.0 322.4,576.2 328.2,582.1 335.3,586.8 342.4,592.1 350.6,599.2 361.2,600.9 370.6,602.9 374.1,605.1 372.4,606.8 370.0,603.9 371.2,593.9 371.8,585.6 365.9,578.6 355.3,571.5 344.7,560.9 334.1,550.4 325.3,536.2 317.6,530.9" fill="none" stroke="#000" stroke-width="1.05" stroke-linejoin="round" clip-path="url(#c1)"/>
<polyline points="310.9,530.9 314.1,549.2 317.6,565.6 322.4,583.3 328.2,598.6 334.1,610.4 339.4,616.0 344.7,616.2 352.9,613.3 361.2,614.2 370.6,615.3 382.4,618.0 391.8,618.6 400.0,615.3" fill="none" stroke="#000" stroke-width="1.05" stroke-linejoin="round" clip-path="url(#c1)"/>
<polyline points="430.6,617.4 432.9,615.6 435.9,616.2 437.6,615.6 443.5,610.9 450.6,604.5 458.8,595.6 465.9,586.8 471.8,578.6 478.8,568.0 485.9,556.2 491.8,545.6 496.5,538.0 500.6,530.9" fill="none" stroke="#000" stroke-width="1.05" stroke-linejoin="round" clip-path="url(#c2)"/>
<polyline points="505.3,530.9 501.2,538.6 496.5,544.5 494.1,551.5 490.6,559.8 485.9,566.8 481.2,571.5 475.3,575.1 469.4,579.8 462.4,583.3 455.3,586.8 451.8,588.0" fill="none" stroke="#000" stroke-width="1.05" stroke-linejoin="round" clip-path="url(#c2)"/>
<polyline points="476.5,562.1 478.2,551.5 480.6,542.1 484.1,536.2 488.8,534.5 492.9,536.8 495.9,542.1 496.5,548.0 494.7,552.7 491.8,556.2" fill="none" stroke="#000" stroke-width="1.05" stroke-linejoin="round" clip-path="url(#c2)"/>
<polyline points="520.0,549.2 509.4,550.4 501.2,552.1 495.3,553.9 490.6,557.4" fill="none" stroke="#000" stroke-width="1.05" stroke-linejoin="round" clip-path="url(#c2)"/>
<polyline points="491.8,556.2 493.5,562.1 494.7,568.0 492.9,572.7 488.2,577.4 481.2,581.5 475.3,585.6 471.8,591.5 470.0,598.6 467.1,603.3 462.4,606.2 457.6,607.4" fill="none" stroke="#000" stroke-width="1.05" stroke-linejoin="round" clip-path="url(#c2)"/>
<polyline points="455.3,586.8 450.6,589.2 445.9,593.9 444.1,598.6 442.4,601.5 439.4,602.7 440.6,605.1 444.7,606.2 450.6,606.8 457.6,607.4" fill="none" stroke="#000" stroke-width="1.05" stroke-linejoin="round" clip-path="url(#c2)"/>
<polyline points="437.6,615.6 440.0,618.6 444.7,620.4 449.4,619.2 454.1,615.1 457.6,610.4 460.0,604.5 462.4,597.4 464.7,590.4 467.1,584.5 470.6,578.6 474.1,575.1" fill="none" stroke="#000" stroke-width="1.05" stroke-linejoin="round" clip-path="url(#c2)"/>
<polyline points="454.1,589.2 456.5,596.2 460.0,604.5 462.9,611.5 465.3,615.6" fill="none" stroke="#000" stroke-width="1.05" stroke-linejoin="round" clip-path="url(#c2)"/>
<polyline points="455.3,591.5 458.8,598.6 461.2,605.6" fill="none" stroke="#000" stroke-width="1.05" stroke-linejoin="round" clip-path="url(#c2)"/>
<polyline points="471.8,578.6 475.3,568.0 481.2,559.8 487.1,551.5 490.6,545.6 491.2,556.2 489.4,557.4" fill="none" stroke="#000" stroke-width="1.05" stroke-linejoin="round" clip-path="url(#c2)"/>
<polyline points="458.8,575.1 462.4,571.5 467.1,566.8 471.8,563.3 476.5,560.9 483.5,555.1 490.6,549.2" fill="none" stroke="#000" stroke-width="1.05" stroke-linejoin="round" clip-path="url(#c2)"/>
<polyline points="456.5,586.8 457.1,580.9 458.8,576.2" fill="none" stroke="#000" stroke-width="1.05" stroke-linejoin="round" clip-path="url(#c2)"/>
<polyline points="490.6,545.6 492.9,546.8 492.4,555.1" fill="none" stroke="#000" stroke-width="1.05" stroke-linejoin="round" clip-path="url(#c2)"/>
<rect x="300.40" y="530.30" width="100.20" height="99.70" fill="none" stroke="#000" stroke-width="3.0"/>
<line x1="350.60" y1="522.30" x2="350.60" y2="530.00" stroke="#000" stroke-width="1.0" />
<line x1="350.60" y1="630.00" x2="350.60" y2="637.70" stroke="#000" stroke-width="1.0" />
<line x1="292.40" y1="580.30" x2="300.40" y2="580.30" stroke="#000" stroke-width="0.9" />
<line x1="400.40" y1="580.30" x2="407.40" y2="580.30" stroke="#000" stroke-width="0.9" />
<rect x="420.40" y="530.30" width="100.20" height="99.70" fill="none" stroke="#000" stroke-width="3.0"/>
<line x1="470.60" y1="522.30" x2="470.60" y2="530.00" stroke="#000" stroke-width="1.0" />
<line x1="470.60" y1="630.00" x2="470.60" y2="637.70" stroke="#000" stroke-width="1.0" />
<line x1="412.40" y1="580.30" x2="420.40" y2="580.30" stroke="#000" stroke-width="0.9" />
<line x1="520.40" y1="580.30" x2="527.40" y2="580.30" stroke="#000" stroke-width="0.9" />
<g id="map" shape-rendering="crispEdges">
<rect x="300.5" y="680.5" width="219.8" height="219.5" fill="#ff1500"/>
<path d="M302.3 900 520.3 900 520.3 680.5 300.5 680.5 300.5 900Z" fill="#ff1f00" fill-rule="evenodd" stroke="#000" stroke-width="1.0" stroke-linejoin="round"/>
<path d="M302.3 900 520.3 900 520.3 680.5 300.5 680.5 300.5 900ZM418.5 840.2 414.1 840.1 408.6 839.6 404.2 839 401.2 838.4 398.7 837.8 395.2 836.6 392.9 835.4 391.5 834.1 390.9 832.9 391.1 831.7 392.4 830.5 395.3 829.3 401.2 828.2 408.6 828 414.1 828.3 419.6 828.8 428.7 830.4 433.5 831.7 436.7 832.9 438.7 834.1 439.7 835.4 439.5 836.6 437.9 837.8 436 838.4 434 839 428.7 839.8 425.1 840.1 419.6 840.3Z" fill="#ff3300" fill-rule="evenodd" stroke="#000" stroke-width="1.0" stroke-linejoin="round"/>
<path d="M302.3 900 520.3 900 520.3 680.5 300.5 680.5 300.5 900ZM407 841.5 401.2 840.7 395.7 839.6 392.1 838.6 388.4 837.1 385.5 835.4 384.2 834.1 383.6 832.9 383.5 831.7 384 830.5 385.3 829.3 387.6 828.1 391.9 826.8 395.7 826.3 399.4 826 404.9 825.9 415.9 826.5 427.4 828.1 433.5 829.3 438.3 830.5 442.1 831.7 444.9 832.9 446.9 834.2 448 835.4 448.3 836.6 447.6 837.8 445.2 839.2 441.5 840.3 434.6 841.5 428.7 841.9 421.4 842.2 414.1 842 408.6 841.6Z" fill="#ff4700" fill-rule="evenodd" stroke="#000" stroke-width="1.0" stroke-linejoin="round"/>
<path d="M302.3 900 520.3 900 520.3 680.5 300.5 680.5 300.5 900ZM402.9 842.7 395.7 841.6 390.3 840.3 386.1 839 382.9 837.7 381 836.6 379.4 835.4 378.3 834.1 377.6 832.9 377.4 831.7 377.6 830.5 378.3 829.3 379.7 828.1 382.9 826.4 386.6 825.3 392.8 824.4 399.4 824.1 404.9 824.1 412.2 824.6 419.6 825.3 428.7 826.6 436.2 828.1 441.5 829.3 445.6 830.5 449 831.7 451.6 832.9 453.6 834.1 454.9 835.4 455.6 836.6 455.4 837.8 454.4 839 452 840.2 447.8 841.5 440.5 842.7 434.2 843.3 426.9 843.7 419.6 843.7 410.4 843.4 403.1 842.7Z" fill="#ff5c00" fill-rule="evenodd" stroke="#000" stroke-width="1.0" stroke-linejoin="round"/>
<path d="M302.3 900 520.3 900 520.3 729.7 516.6 730.6 510 731.7 503.8 732.2 496.5 732.2 489.9 731.7 484 730.5 481.5 729.3 480.6 728.1 480.9 726.8 482.2 725.6 484.4 724.4 487.6 723.2 491 722.2 496.5 721 503.8 720 509.3 719.6 514.8 719.7 520.3 720.3 520.3 680.5 300.5 680.5 300.5 900ZM419.5 845.1 410.4 844.8 403.1 844.2 395.7 843.2 390.3 842.2 384.8 840.8 379.9 839 377.4 837.8 375.6 836.6 374.1 835.4 373.1 834.1 372.4 832.9 372.1 831.7 372.1 830.5 372.5 829.3 373.4 828.1 374.8 826.8 377 825.6 381.1 824.2 386.6 823.1 392.1 822.6 399.4 822.4 408.6 822.8 417.7 823.7 428.7 825.2 437.9 826.8 445.2 828.5 451.9 830.5 457.6 832.9 459.6 834.1 461.1 835.4 461.9 836.6 462.2 837.8 461.7 839 459.9 840.5 457.7 841.5 454.4 842.4 447 843.6 437.9 844.6 428.7 845.1 419.6 845.1Z" fill="#ff7000" fill-rule="evenodd" stroke="#000" stroke-width="1.0" stroke-linejoin="round"/>
<path d="M302.3 900 520.3 900 520.3 733.2 513 734.2 503.8 734.8 494.7 734.9 485.5 734.3 476.7 732.9 472.6 731.7 470.4 730.5 469.3 729.3 469.3 728.1 470 726.8 471.4 725.6 473.6 724.4 476.3 723.2 483.7 720.8 488.9 719.5 496.5 718.1 504.5 717.1 513 716.6 520.3 716.7 520.3 680.5 300.5 680.5 300.5 900ZM417.3 846.3 408.6 846 399.4 845.2 390.6 843.9 384.9 842.7 379.3 841 374.5 839 370.6 836.6 369.3 835.4 368.3 834.1 367.6 832.9 367.2 831.7 367.2 830.5 367.4 829.3 368 828.1 369 826.8 370.4 825.6 372.5 824.4 375.5 823.2 377.4 822.6 382.9 821.6 390.3 820.9 397.6 820.8 408.6 821.4 419.6 822.6 431.9 824.4 444.6 826.8 453.9 829.3 460.5 831.7 465.1 834.1 466.7 835.4 467.8 836.6 468.3 837.8 468.3 839 467.5 840.2 467.2 840.5 465.9 841.5 462.8 842.7 457.6 843.9 448.5 845.1 437.9 846 428.7 846.4 417.7 846.4Z" fill="#ff8500" fill-rule="evenodd" stroke="#000" stroke-width="1.0" stroke-linejoin="round"/>
<path d="M302.3 900 520.3 900 520.3 735.5 509.3 736.6 500.2 736.9 489.2 736.7 480 736 474.8 735.4 470.8 734.6 468.5 734.2 464.5 732.9 461.7 731.5 460.6 730.5 460.1 729.3 460.4 728.1 461.4 726.8 463 725.6 465.1 724.4 471 722 479 719.5 489.8 717.1 500.2 715.4 511.1 714.4 520.3 714.2 520.3 680.5 300.5 680.5 300.5 900ZM419.5 847.6 408.6 847.2 399.4 846.5 390.3 845.3 383.1 843.9 377.4 842.4 371.9 840.2 367.6 837.8 364.8 835.4 363.2 832.9 362.8 831.7 362.6 830.5 362.7 829.3 363.1 828.1 363.8 826.8 364.9 825.6 366.3 824.4 368.3 823.2 371.2 822 373.8 821.2 379.3 820.1 386.6 819.4 393.9 819.3 404.9 819.8 417.7 821.2 431.8 823.2 445.2 825.6 455.2 828.1 462.8 830.5 468.2 832.9 470.3 834.1 472 835.4 473.2 836.6 474 837.8 474.3 839 474.1 840.2 473.1 841.5 471.1 842.7 469 843.5 463.5 844.8 454.4 846.1 443.4 846.9 430.5 847.5 419.6 847.6Z" fill="#ff9900" fill-rule="evenodd" stroke="#000" stroke-width="1.0" stroke-linejoin="round"/>
<path d="M302.3 900 520.3 900 520.3 737.4 509.3 738.3 496.5 738.5 483.7 738.1 472.7 737.1 463.5 735.6 457.8 734.2 454.9 732.9 453.1 731.7 452.3 730.5 452.2 729.3 452.8 728.1 453.9 726.8 455.6 725.6 457.8 724.4 463.6 722 467.1 720.7 475.6 718.3 486.4 715.9 498.3 713.8 509.3 712.6 520.3 712.1 520.3 680.5 300.5 680.5 300.5 900ZM398 847.6 388.2 846.3 379.3 844.6 372.7 842.7 367 840.2 363.1 837.8 360.9 835.8 359.6 834.1 359 832.9 358.3 830.5 358.6 828.1 359.1 826.8 359.8 825.6 360.9 824.4 362.8 822.9 364.6 821.8 367 820.7 371.9 819.3 379.3 818.2 386.6 817.8 395.7 817.9 404.9 818.6 421.4 820.5 437.9 823 451 825.6 460.5 828.1 467.8 830.5 470.7 831.7 475.3 834.1 478.4 836.6 479.4 837.8 480 839 480.1 840.2 479.6 841.5 478.4 842.7 476.1 843.9 474.5 844.5 472.3 845.1 467.2 846.1 458 847.2 439.7 848.3 426.9 848.7 412.2 848.5 399.4 847.7Z" fill="#ffad00" fill-rule="evenodd" stroke="#000" stroke-width="1.0" stroke-linejoin="round"/>
<path d="M302.3 900 520.3 900 520.3 739 507.5 739.8 494.7 740 481.8 739.5 469 738.4 458 736.8 452 735.4 448.6 734.2 446.5 732.9 445.2 731.7 444.8 730.5 445 729.3 445.8 728.1 447.1 726.8 451.2 724.4 456.9 722 464.3 719.5 468.5 718.3 481.8 715.1 494.7 712.8 507.5 711.1 520.3 710.3 520.3 680.5 300.5 680.5 300.5 900ZM398.6 848.8 388.4 847.7 380.3 846.3 371.9 844.3 366.4 842.3 362.8 840.5 360.9 839.4 357.5 836.6 356.4 835.4 354.9 832.9 354.5 831.7 354.2 829.3 354.6 826.8 355.2 825.6 356 824.4 357.3 822.9 359.1 821.5 360.9 820.4 362.8 819.5 366.4 818.2 370.1 817.4 373.8 816.8 381.1 816.3 390.3 816.3 399.4 816.9 414.1 818.4 430.5 820.8 447 823.6 456.2 825.6 461.3 826.8 469.3 829.3 472.6 830.5 478 832.9 480.2 834.1 483.5 836.6 484.6 837.8 485.5 839 485.9 840.2 485.8 841.5 485.1 842.7 483.6 843.9 481 845.1 476.7 846.3 474.5 846.8 465.4 848 450.7 849 428.7 849.7 414.1 849.6 399.4 848.8Z" fill="#ffc200" fill-rule="evenodd" stroke="#000" stroke-width="1.0" stroke-linejoin="round"/>
<path d="M302.3 900 520.3 900 520.3 740.4 505.6 741.2 491 741.2 474.5 740.4 460.6 739 450.7 737.4 446.8 736.6 442.9 735.4 440.3 734.2 438.7 732.9 438 731.7 437.9 730.5 438.4 729.3 439.4 728.1 440.8 726.8 445 724.4 450.8 722 454.2 720.7 466.7 717.1 481.8 713.6 494.7 711.3 507.5 709.6 520.3 708.6 520.3 680.5 300.5 680.5 300.5 900ZM400.1 850 388.4 848.9 379.3 847.6 371.9 846 365.4 843.9 359.9 841.5 357.3 839.9 354.6 837.8 353.4 836.6 351.6 834.1 351 832.9 350.2 830.5 350.2 828.1 350.4 826.8 351.4 824.4 352.2 823.2 353.6 821.6 356.3 819.5 358.5 818.3 360.9 817.3 366.4 815.9 373.8 814.9 382.9 814.7 392.1 815.1 408.6 816.6 426.9 819.1 445.2 822.2 454.4 824 461.7 825.6 467.2 827.1 474.1 829.3 477.4 830.5 482.7 832.9 484.9 834.1 488.4 836.6 490.8 839 491.4 840.2 491.7 841.5 491.4 842.7 490.5 843.9 488.8 845.1 485.8 846.3 481.8 847.4 472.5 848.8 456.2 849.9 432.4 850.7 415.9 850.7 401.2 850.1Z" fill="#ffd600" fill-rule="evenodd" stroke="#000" stroke-width="1.0" stroke-linejoin="round"/>
<path d="M302.3 900 520.3 900 520.3 741.7 505.6 742.4 489.2 742.3 472.7 741.6 457.9 740.3 447 738.8 442.1 737.8 437.6 736.6 434.6 735.4 432.7 734.2 431.6 732.9 431.3 731.7 431.5 730.5 432.2 729.3 433.3 728.1 436.9 725.6 439.2 724.4 445 722 456.2 718.3 470.4 714.6 481.8 712.2 489.2 710.8 504.3 708.5 513 707.6 520.3 707.1 520.3 680.5 300.5 680.5 300.5 900ZM402.9 851.2 390.3 850.3 381.1 849.2 372.1 847.6 364.6 845.5 360.9 844.2 357.6 842.7 353.5 840.2 351.8 838.9 349.5 836.6 348.1 834.8 347.1 832.9 346.4 830.5 346.2 828.1 346.6 825.6 347 824.4 348.4 822 350 820.1 352.2 818.3 354.2 817.1 356.9 815.9 359.1 815.1 362.8 814.2 366.4 813.6 370.1 813.3 375.6 813.1 386.6 813.3 403.1 814.8 423.2 817.6 449.7 822 465.4 825.3 475.3 828.1 478.9 829.3 484.9 831.7 489.7 834.1 493.4 836.6 496 839 496.9 840.2 497.4 841.5 497.5 842.7 497.1 843.9 495.9 845.1 493.8 846.3 490.4 847.6 487.3 848.3 480 849.5 472.7 850.2 463.5 850.8 436 851.6 419.6 851.7 403.1 851.2Z" fill="#ffeb00" fill-rule="evenodd" stroke="#000" stroke-width="1.0" stroke-linejoin="round"/>
<path d="M302.3 900 520.3 900 520.3 742.9 503.8 743.5 485.5 743.3 467.2 742.4 448.9 740.7 437.7 739 432.5 737.8 430.5 737.1 429.1 736.6 426.9 735.4 425.6 734.2 425 732.9 425 731.7 425.4 730.5 426.3 729.3 427.6 728.1 429.3 726.8 433.7 724.4 436.4 723.2 442.9 720.7 454.9 717.1 469.7 713.4 487.8 709.8 503.8 707.3 513 706.2 520.3 705.6 520.3 680.5 300.5 680.5 300.5 900ZM408.1 852.4 395.7 851.8 384.8 850.9 375.6 849.6 366.4 847.8 359.1 845.5 353.6 843 349.3 840.2 347.8 839 345.5 836.6 343.9 834.1 342.9 831.7 342.4 829.3 342.3 826.8 342.8 824.4 343.8 822 345.4 819.5 348 817.1 350 815.7 352.1 814.6 355.4 813.4 359.1 812.5 366.4 811.5 371.9 811.3 377.4 811.4 384.8 811.8 393.9 812.6 414.1 815.2 448.6 820.7 466.8 824.4 472.7 825.9 480 828.1 483.6 829.3 489.6 831.7 494.5 834.1 498.4 836.6 501.3 839 502.4 840.2 503.2 841.5 503.5 842.7 503.4 843.9 502.8 845.1 501.3 846.3 498.9 847.6 495 848.8 487.3 850.2 476.3 851.3 458 852.1 428.7 852.7 408.6 852.5Z" fill="#ffff00" fill-rule="evenodd" stroke="#000" stroke-width="1.0" stroke-linejoin="round"/>
<path d="M302.3 900 520.3 900 520.3 744 502 744.6 483.7 744.3 463.5 743.3 442.5 741.5 432.4 740 427.7 739 423.9 737.8 421.4 736.6 419.9 735.4 419.1 734.2 418.8 732.9 419.1 731.7 419.7 730.5 420.8 729.3 422.2 728.1 426.1 725.6 428.5 724.4 434.2 722 441.3 719.5 449.5 717.1 458.9 714.6 469.4 712.2 487.3 708.6 503.8 706 520.3 704.2 520.3 680.5 300.5 680.5 300.5 900ZM389.5 852.4 377.5 851.2 368.3 849.7 359.5 847.6 353.6 845.4 348.4 842.7 346.3 841.2 343.7 839 342.6 837.8 340.8 835.4 339.6 832.9 338.8 830.5 338.4 828.1 338.5 825.6 339 823.2 339.9 820.7 341.4 818.3 343.6 815.9 345.2 814.6 348.1 812.9 350 812.1 353.6 811 357.3 810.2 360.9 809.8 370.1 809.5 381.1 810.1 390.3 811 401.2 812.3 432.4 817.1 458 821.5 466.4 823.2 474.5 825.1 480.9 826.8 488.3 829.3 497 832.9 501.5 835.4 505.2 837.8 508 840.2 509 841.5 509.6 842.7 509.8 843.9 509.5 845.1 508.5 846.3 506.7 847.6 503.9 848.8 499.4 850 494.7 850.9 483.7 852.1 465.4 853 428.7 853.6 408.6 853.4 390.3 852.5Z" fill="#ebff00" fill-rule="evenodd" stroke="#000" stroke-width="1.0" stroke-linejoin="round"/>
<path d="M302.3 900 520.3 900 520.3 745.1 502 745.6 481.8 745.3 458 744 437.9 742.5 426.9 741 422.9 740.3 418.8 739 416.1 737.8 414.3 736.6 413.4 735.4 413 734.2 413 732.9 413.5 731.7 414.3 730.5 415.5 729.3 418.8 726.8 423.4 724.4 426.1 723.2 432.5 720.7 440.1 718.3 448.8 715.9 458.6 713.4 481.4 708.5 502 705 520.3 702.8 520.3 680.5 300.5 680.5 300.5 900ZM392 853.7 379.3 852.6 368.5 851.2 360.9 849.7 353.6 847.6 347.9 845.1 345.7 843.9 342.6 841.8 340.9 840.2 338.6 837.8 336.3 834.1 335.3 831.7 334.7 829.3 334.5 826.8 334.8 823.2 335.5 820.7 337.1 817.3 339 814.9 340.8 813.1 344 811 346.3 810 348.1 809.3 351.8 808.4 355.4 807.9 359.1 807.6 364.6 807.5 370.1 807.7 377.4 808.3 386.6 809.2 410.4 812.6 452.7 819.5 465.8 822 476.8 824.4 483.7 826.2 489.6 828.1 496.3 830.5 501.9 832.9 506.7 835.4 510.7 837.8 513.8 840.2 515 841.5 515.8 842.7 516.3 843.9 516.2 845.1 515.6 846.3 514.3 847.6 512.1 848.8 508.8 850 503.6 851.2 496.5 852.3 491 852.9 481.8 853.5 472.7 853.9 432.4 854.5 410.4 854.4 392.1 853.7Z" fill="#d6ff00" fill-rule="evenodd" stroke="#000" stroke-width="1.0" stroke-linejoin="round"/>
<path d="M302.3 900 520.3 900 520.3 848.7 517.6 850 513.6 851.2 505.6 852.8 498.3 853.6 492.8 854.1 476.3 854.9 432.4 855.4 412.2 855.3 390.3 854.6 381.1 854 371.9 853 360.9 851.3 353.6 849.5 350 848.3 346.3 846.8 342.9 845.1 341 843.9 339 842.4 336.6 840.2 334.6 837.8 333.1 835.4 331.9 832.9 331.2 830.5 330.7 828.1 330.6 825.6 330.9 822 331.5 819.5 332.4 817.1 333.5 815.1 335.3 812.5 336.8 811 338.3 809.8 340.3 808.5 344.5 806.8 350 805.7 357.3 805.2 366.4 805.6 381.1 807.1 401.2 810.1 458.1 819.5 476.6 823.2 490.6 826.8 501.3 830.5 507.1 832.9 512.1 835.4 516.5 837.8 520.3 840.5 520.3 746.1 502 746.5 481.8 746.2 452.5 744.8 438.5 743.9 428.7 743.1 423.2 742.4 418.2 741.5 414.1 740.4 412.2 739.7 410.4 738.8 408.6 737.4 407.8 736.6 407.3 735.4 407.2 734.2 407.5 732.9 408.1 731.7 409.1 730.5 412 728.1 416.1 725.6 421.2 723.2 427.6 720.7 439.2 717.1 448.4 714.6 458.6 712.2 481.8 707.3 502 703.8 520.3 701.5 520.3 680.5 300.5 680.5 300.5 900Z" fill="#c2ff00" fill-rule="evenodd" stroke="#000" stroke-width="1.0" stroke-linejoin="round"/>
<path d="M302.3 900 520.3 900 520.3 852 511.9 853.7 500.2 854.9 485.5 855.7 467.2 856 426.9 856.3 403.1 856 381.1 855.1 371.9 854.3 364.6 853.4 355.4 851.8 348.1 849.9 342.2 847.6 339 845.8 336.2 843.9 334.7 842.7 332.3 840.2 330.5 837.8 329.1 835.4 328 832.9 327.3 830.5 326.9 828.1 326.6 824.4 326.9 820.7 327.4 818.3 328.2 815.9 329.2 813.4 330.6 811 331.6 809.6 333.5 807.8 335.3 806.4 339 804.5 341.7 803.7 344.5 803.1 350 802.6 357.3 802.8 370.1 804.1 388.4 806.9 458 818.6 476.2 822 486.8 824.4 499.5 828.1 509.6 831.7 515.4 834.1 520.3 836.5 520.3 747.1 502 747.5 481.8 747.2 437.9 745.1 423.2 744.1 413.3 742.7 408.6 741.5 406.7 740.8 404.9 739.9 403.1 738.6 402.3 737.8 401.7 736.6 401.4 735.4 401.6 734.2 402.1 732.9 402.9 731.7 405.4 729.3 409 726.8 413.7 724.4 419.5 722 430.5 718.2 438.7 715.9 448.3 713.4 458.8 711 476.2 707.3 498.3 703.3 509.3 701.6 520.3 700.2 520.3 680.5 300.5 680.5 300.5 900Z" fill="#adff00" fill-rule="evenodd" stroke="#000" stroke-width="1.0" stroke-linejoin="round"/>
<path d="M302.3 900 520.3 900 520.3 854.2 514.8 855 505.6 855.9 489.2 856.7 472.7 857 423.2 857.2 401.2 856.9 382.9 856.3 368.3 855.2 357.3 853.8 348.1 852 341.8 850 336.5 847.6 333.5 845.6 331.3 843.9 327.9 840.2 326.3 837.8 325 835.4 324 832.9 323.1 829.3 322.8 826.8 322.6 823.2 322.8 819.5 323.2 817.1 324.5 812.2 325.6 809.8 327 807.3 328 806 329.8 804.1 331.6 802.8 333.5 801.7 337.1 800.4 339 800 342.6 799.5 348.1 799.5 357.3 800.3 368.3 802 423.2 811.9 461.9 818.3 475.4 820.7 486.9 823.2 500.9 826.8 512.1 830.5 520.3 833.6 520.3 748.1 502 748.3 481.8 748 432.4 746.1 417.7 745.2 408.1 743.9 403.3 742.7 401.2 741.9 398.1 740.3 396.8 739 396 737.8 395.7 736.6 395.8 735.4 396.2 734.2 396.9 732.9 399.1 730.5 402.3 728.1 406.5 725.6 411.8 723.2 418 720.7 425.4 718.3 433.9 715.9 443.4 713.4 453.8 711 470.8 707.3 496.5 702.5 509.3 700.4 520.3 698.9 520.3 680.5 300.5 680.5 300.5 900Z" fill="#99ff00" fill-rule="evenodd" stroke="#000" stroke-width="1.0" stroke-linejoin="round"/>
<path d="M302.3 900 520.3 900 520.3 856.1 505.6 857.3 489.2 857.8 412.2 858 392.1 857.6 375.6 856.9 362.8 856 351.8 854.6 344.5 853.2 340.8 852.2 337.1 850.9 333.5 849.2 330.6 847.6 328 845.6 326.2 843.9 324.1 841.5 322.5 839 321.3 836.6 320.3 834.1 319.6 831.7 318.8 828.1 318.4 822 318.9 815.9 320.1 809.8 320.9 807.3 322 804.9 324.3 801.4 326.1 799.6 328 798.2 329.8 797.2 331.6 796.5 335.3 795.7 340.8 795.5 346.3 795.9 353.6 797.1 391.6 804.9 416.8 809.8 436 813.2 467.4 818.3 480.8 820.7 492.3 823.2 502 825.6 510.6 828.1 520.3 831.2 520.3 749 502 749.2 483.7 749 425.1 747.1 411.6 746.4 406.7 745.8 401.2 744.9 397.6 743.9 394.5 742.7 392.4 741.5 391.1 740.3 390.3 739 389.9 737.8 389.9 736.6 390.2 735.4 390.8 734.2 392.8 731.7 395.7 729.3 399.5 726.8 404.3 724.4 410.1 722 416.9 719.5 424.8 717.1 433.7 714.6 443.6 712.2 471.7 706.1 497.2 701.2 520.3 697.6 520.3 680.5 300.5 680.5 300.5 900Z" fill="#85ff00" fill-rule="evenodd" stroke="#000" stroke-width="1.0" stroke-linejoin="round"/>
<path d="M302.3 900 520.3 900 520.3 857.8 505.6 858.6 489.2 858.9 401.2 858.7 381.1 858.3 366.4 857.6 353.6 856.6 344.5 855.3 337 853.7 333.2 852.4 330.3 851.2 326 848.8 324.3 847.5 321.8 845.1 319.9 842.7 318.4 840.2 317.2 837.8 315.9 834.2 314.6 828.1 314.2 824.4 314.1 820.7 314.5 813.4 315 809.8 315.7 806.1 317.2 801.2 318.3 798.8 319.9 796.3 322.5 793.6 324.3 792.3 326.1 791.4 329.8 790.5 331.6 790.3 335.3 790.3 339 790.7 344.5 791.8 375.8 800 399.4 805.3 415.4 808.5 430.5 811.4 472.9 818.3 486.3 820.7 502.9 824.4 520.3 829 520.3 749.9 503.8 750.1 487.3 749.9 448.9 748.7 417.7 748.2 405.1 747.6 395.7 746.3 391.4 745.1 388.6 743.9 386.6 742.7 385.3 741.5 384.4 740.3 384 739 383.8 737.8 384 736.6 384.5 735.4 386.3 732.9 389 730.5 392.7 728.1 397.1 725.6 402.5 723.2 408.7 720.7 416 718.3 424.4 715.9 433.7 713.4 444 711 460.8 707.3 492.8 701 520.3 696.3 520.3 680.5 300.5 680.5 300.5 900Z" fill="#70ff00" fill-rule="evenodd" stroke="#000" stroke-width="1.0" stroke-linejoin="round"/>
<path d="M302.3 900 520.3 900 520.3 859.4 505.6 859.9 489.2 860 448.9 859.7 408.6 859.6 384.8 859.4 368.3 858.9 355.4 858.3 344.5 857.4 335.8 856.1 329.8 854.7 326.9 853.7 324.1 852.4 322 851.2 318.8 848.8 317.6 847.6 315.7 845.1 314.2 842.7 313.1 840.2 312.2 837.8 311.1 834.1 310.4 830.5 310 826.8 309.7 818.3 310 809.8 310.8 802.4 312.2 796.3 313 793.9 314 791.5 315.2 789.5 316.4 787.8 319.2 785.4 320.6 784.5 322.5 783.7 324.3 783.3 328 783 331.6 783.3 337.1 784.7 342.6 786.7 358.2 792.7 365.3 795.1 373.2 797.6 384.8 800.7 397.2 803.7 414.1 807.3 430.5 810.5 445.2 813 478.2 818.2 491.9 820.7 503.6 823.2 520.3 827.1 520.3 750.8 496.5 750.8 448.9 749.7 412.2 749.5 404.9 749.3 397.6 748.9 393.9 748.5 389 747.6 385 746.4 382.9 745.4 380.4 743.9 379 742.7 378.1 741.5 377.6 740.3 377.4 739 377.5 737.8 377.9 736.6 379.4 734.2 382 731.7 385.5 729.3 389.8 726.8 397.8 723.2 404.1 720.7 411.4 718.3 419.7 715.9 429 713.4 450.2 708.5 491 700.3 520.3 695 520.3 680.5 300.5 680.5 300.5 900Z" fill="#5cff00" fill-rule="evenodd" stroke="#000" stroke-width="1.0" stroke-linejoin="round"/>
<path d="M302.3 900 520.3 900 520.3 860.9 496.5 861.1 450.7 860.5 397.6 860.4 366.4 860.1 351.8 859.7 340.8 859.2 331.6 858.3 325.3 857.3 322.5 856.7 318.8 855.4 315.2 853.5 313.3 852.1 311.5 850.1 310.5 848.8 309.2 846.3 308.2 843.9 307.1 840.2 305.9 834.1 305.2 826.8 305 817.1 305.3 804.9 306 795.1 307.2 787.8 308.6 782.9 310.3 779.3 311.5 777.5 313.4 775.6 315.2 774.4 317 773.6 318.8 773 322.5 772.6 324.3 772.7 328 773.4 329.8 774 333.5 775.5 337.1 777.4 352.2 786.6 356.9 789 362.2 791.5 368.3 793.9 375.3 796.3 387.6 800 407.4 804.9 426.9 808.9 443.4 811.9 489.2 819.1 504 822 520.3 825.4 520.3 751.7 494.7 751.6 447 750.6 406.7 751 397.6 750.9 392.1 750.6 386.9 750 382.9 749.2 379.3 748.2 375.6 746.7 373.1 745.1 371.8 743.9 370.9 742.7 370.3 741.5 370.1 740.3 370.2 739 370.6 737.8 372 735.4 374.5 732.9 376.1 731.7 379.9 729.3 384.6 726.8 392.9 723.2 399.4 720.7 406.7 718.3 415 715.9 424.2 713.4 445.4 708.5 487.3 699.9 520.3 693.8 520.3 680.5 300.5 680.5 300.5 900Z" fill="#47ff00" fill-rule="evenodd" stroke="#000" stroke-width="1.0" stroke-linejoin="round"/>
<path d="M302.3 900 520.3 900 520.3 862.4 498.3 862.2 447 861.4 388.4 861.3 318.8 861.5 307.8 862 306 862.3 304.2 862.8 303.2 863.4 302.3 864.6 301.5 867.1 301.2 869.5 300.8 879.3 300.7 900ZM518.5 823.4 520.3 823.8 520.3 752.5 496.5 752.4 447 751.5 432.4 751.6 395.7 752.8 390.3 752.7 384.8 752.5 379.3 751.9 375.2 751.2 370.2 750 366.9 748.8 364.6 747.5 363.1 746.4 362.1 745.1 361.5 743.9 361.2 742.7 361.2 741.5 361.9 739 363.5 736.6 366.1 734.2 367.7 732.9 371.5 730.5 376.2 728.1 384.7 724.4 394.5 720.7 401.9 718.3 410.2 715.9 419.5 713.4 440.6 708.5 487.3 698.9 520.3 692.4 520.3 680.5 300.7 680.5 300.7 725.6 301 743.9 301.4 748.8 302 752.4 302.5 753.7 303.6 754.9 304.2 755.3 306 756 307.8 756.5 318.8 758 324.3 759 328 760 331.6 761.6 334.6 763.4 337.1 765.4 339 767.2 345 774.4 348.4 778.1 352.3 781.7 357.2 785.4 363.2 789 368.2 791.5 375.6 794.6 384.3 797.6 392.5 800 404.9 803.2 417.4 806.1 428.7 808.4 447 811.6 490.3 818.3 517.1 823.2Z" fill="#33ff00" fill-rule="evenodd" stroke="#000" stroke-width="1.0" stroke-linejoin="round"/>
<path d="M306 900 520.3 900 520.3 863.9 458 862.4 425.1 862.2 379.3 862.4 350 863 339 863.7 331.6 864.4 326.1 865.3 320.6 866.7 317 868.3 315 869.5 313.5 870.7 311.3 873.2 309.2 876.8 307.8 880.5 306.6 885.4 305.6 892.7 305 900ZM518.5 822 520.3 822.3 520.3 753.4 496.5 753.2 456.2 752.4 443.4 752.4 425.1 753 390.3 754.9 368.3 755.1 362.8 755.3 359.1 755.8 357.3 756.3 355.4 757 353.6 758.3 352.4 759.8 351.8 761 351.4 762.2 351 764.6 351.1 767.1 351.5 769.5 352.2 772 353.2 774.4 354.6 776.8 356.4 779.3 359.9 782.9 364.7 786.6 370.8 790.2 378.9 793.9 385.4 796.3 395.7 799.6 406.1 802.4 417.7 805.2 430.5 807.9 447 810.8 489 817.1 518.3 822ZM326.1 745.4 331.6 745.9 335.3 745.9 339 745.5 342.6 744.5 346.3 742.4 352.1 737.8 357.5 734.2 361.8 731.7 366.8 729.3 372.5 726.8 382.2 723.2 393.1 719.5 405.4 715.9 419.7 712.2 435.8 708.5 520.3 691.1 520.3 680.5 305 680.5 304.5 696.4 304.8 712.2 305.2 718.3 305.7 723.2 306.3 726.8 307.2 730.5 308 732.9 309.7 736.3 311.5 738.8 313.3 740.6 315.2 741.9 318.8 743.6 320.6 744.2 324.6 745.1Z" fill="#1fff00" fill-rule="evenodd" stroke="#000" stroke-width="1.0" stroke-linejoin="round"/>
<path d="M309.7 900 520.3 900 520.3 865.4 492.8 864.3 463.5 863.4 445.2 863 425.1 863 386.6 863.2 371.9 863.6 359.1 864.1 348.1 864.9 340.8 865.7 333.5 867 328.6 868.3 324.3 870 320.6 872.1 317.9 874.4 314.9 878 313.5 880.5 312.4 882.9 310.9 887.8 309.6 893.9 308.8 900ZM520.3 820.9 520.3 754.2 496.5 754 458 753.2 441.5 753.3 430.5 753.7 417.7 754.5 403.1 755.7 384.8 757.5 379.3 758.1 373.8 759 370.1 759.9 366.4 761.2 364.5 762.2 362.9 763.4 361.7 764.6 360.2 767.1 359.7 768.3 359.4 770.7 359.4 772 359.8 774.4 360.7 776.8 362.1 779.3 365.2 782.9 369.6 786.6 375.6 790.2 380.6 792.7 388.4 795.9 397.2 798.8 405.6 801.2 415.9 803.8 426 806.1 437.9 808.4 454.4 811.1 487.3 815.9 519.3 820.7ZM324.3 735.5 328 736.1 331.6 736.3 335.3 736.1 340.8 735.2 346.3 733.6 364.9 726.8 379.7 722 396 717.1 409.8 713.4 431 708.5 481.8 698.1 520.3 689.8 520.3 680.5 308.9 680.5 308.3 691.5 308.4 703.7 309.2 713.4 309.7 717.1 310.6 720.7 311.5 723.7 312.3 725.6 313.3 727.6 315.2 730.1 317 731.9 318.8 733.2 320.6 734.2 324 735.4Z" fill="#0aff00" fill-rule="evenodd" stroke="#000" stroke-width="1.0" stroke-linejoin="round"/>
<path d="M313.3 900 520.3 900 520.3 867 498.3 865.6 469 864.4 447 863.9 425.1 863.8 390.3 864.1 375.6 864.5 364.6 865.1 354.8 865.9 346.3 866.9 339 868.3 334.4 869.5 329.8 871.2 326.1 873.2 322.5 875.9 319.4 879.3 317.1 882.9 315.1 887.8 313.7 892.7 312.4 900ZM520.3 819.6 520.3 755 461.7 754.1 447 754.1 437.9 754.4 426.9 755 415.9 755.9 404.9 757 393.5 758.5 384.8 760 379.3 761.2 373.8 763.1 370.8 764.6 369.2 765.9 367.9 767.1 366.3 769.5 365.9 770.7 365.5 773.2 365.5 774.4 366.1 776.8 367.2 779.3 367.9 780.5 371.2 784.2 375.8 787.8 382.2 791.5 387.6 793.9 393.9 796.3 403.1 799.3 412.2 801.9 421.4 804.2 432.4 806.5 443.3 808.5 459.9 811.1 520 819.5ZM328 729.3 331.6 729.9 337.1 730 342.6 729.5 348.1 728.5 357.3 726.2 395.1 715.9 409.8 712.2 431.9 707.3 483.7 696.7 501.9 692.7 520.3 688.3 520.3 680.5 312.6 680.5 311.9 690.3 311.9 700 312.8 708.5 313.4 712.2 314.4 715.9 315.2 718.3 316.4 720.7 318 723.2 319.1 724.4 320.6 725.9 322.5 727.1 324.3 728.1 327.9 729.3Z" fill="#00ff0a" fill-rule="evenodd" stroke="#000" stroke-width="1.0" stroke-linejoin="round"/>
<path d="M317 900 520.3 900 520.3 868.6 500.2 866.9 474.5 865.6 448.9 864.8 425.1 864.6 392.1 865 379.3 865.4 368.3 866 359.1 866.8 351.8 867.8 344.5 869.1 338.5 870.7 333.5 872.7 329.8 874.7 326.1 877.4 323.2 880.5 320.7 884.1 318.4 889 317 893.9 315.8 900ZM511.1 817.2 520.3 818.3 520.3 755.9 465.3 754.9 450.7 754.9 432.4 755.6 414.1 757.3 404.3 758.5 395.7 760 388.4 761.6 382 763.4 377.4 765.4 374.9 767.1 372.5 769.5 371.7 770.7 370.8 773.2 370.7 774.4 370.9 776.8 371.3 778.1 372.5 780.5 374.3 782.9 375.4 784.2 378.3 786.6 384 790.2 388.8 792.7 395.7 795.6 405.1 798.8 413.5 801.2 423.2 803.7 432.4 805.7 443.4 807.7 461.7 810.6 510.5 817.1ZM331.6 724.6 337.1 725.4 342.6 725.4 350 724.6 357.3 723.4 370.1 720.6 399.4 713.4 415.5 709.8 470.8 698.5 497.1 692.7 520.3 686.9 520.3 680.5 316 680.5 315.3 687.8 315.3 696.4 315.7 701.2 316.2 704.9 317.6 711 318.5 713.4 319.7 715.9 320.6 717.4 322.5 719.7 324.3 721.3 326.1 722.5 328 723.4 330.8 724.4Z" fill="#00ff1f" fill-rule="evenodd" stroke="#000" stroke-width="1.0" stroke-linejoin="round"/>
<path d="M320.6 900 520.3 900 520.3 870.2 502.1 868.3 476.3 866.6 450.7 865.6 425.1 865.4 395.7 865.8 382.9 866.3 371.9 866.9 362.8 867.8 353.6 869.1 348.1 870.2 341.8 872 337.1 873.8 333.5 875.7 329.8 878.3 326.4 881.7 323.8 885.4 321.5 890.2 320 895.1 319.1 900ZM511.1 816 520.3 817.1 520.3 756.7 467.2 755.7 452.5 755.7 443.4 755.9 434.2 756.4 417.7 758 408.6 759.3 399.4 761 392.1 762.8 386.3 764.6 383.5 765.9 381.3 767.1 378.2 769.5 376.3 772 375.5 774.4 375.4 775.6 375.7 778.1 376.7 780.5 377.4 781.7 378.4 782.9 380.8 785.4 383.9 787.8 390.1 791.5 395.4 793.9 401.6 796.3 408.9 798.8 417.4 801.2 426.9 803.6 436 805.5 445.8 807.3 465.3 810.2 509.5 815.9ZM335.3 720.9 340.8 721.7 346.3 721.8 353.6 721.3 362.8 719.9 375.6 717.4 416 708.5 476.5 696.4 502.5 690.3 520.3 685.3 520.3 680.5 319.2 680.5 318.5 687.8 318.7 695.1 319.6 702.5 320.5 706.1 321.3 708.5 323.1 712.2 324.3 714.1 326.1 716.1 328 717.7 329.8 718.8 331.6 719.7 334.8 720.7Z" fill="#00ff33" fill-rule="evenodd" stroke="#000" stroke-width="1.0" stroke-linejoin="round"/>
<path d="M322.5 900 520.3 900 520.3 872 511.9 870.7 502 869.6 480 867.8 454.4 866.6 426.9 866.2 397.6 866.6 385.9 867.1 375.6 867.7 366.4 868.6 359.1 869.6 351.8 871.1 346.3 872.6 341.3 874.4 336.5 876.8 333.1 879.3 329.3 882.9 326.7 886.6 324.8 890.2 323.2 895.1 322.2 900ZM520.3 815.9 520.3 757.5 470.8 756.6 454.4 756.5 445.2 756.7 436 757.2 426.9 758 419.6 758.9 410.4 760.3 401.3 762.2 395.7 763.7 389.8 765.9 385.1 768.3 382.2 770.7 380.5 773.2 380 774.4 379.7 776.8 380.2 779.3 380.7 780.5 382.2 782.9 384.5 785.4 386 786.6 389.4 789 396.3 792.7 402 795.1 408.8 797.6 417.7 800.3 426 802.4 434.2 804.3 443.5 806.1 454.4 807.9 469 809.9 491 812.6 520.1 815.9ZM342.6 718.4 348.1 718.8 355.5 718.5 362.8 717.7 371.9 716.3 382.9 714.3 416.8 707.3 470.8 696.7 483.7 693.8 498 690.3 511.2 686.6 518.9 684.2 520.3 683.7 520.3 680.5 322.3 680.5 321.9 684.2 321.7 687.8 322 695.1 323.1 701.2 324.2 704.9 325.3 707.3 326.7 709.8 328 711.4 329.8 713.3 331.6 714.7 333.6 715.9 336.6 717.1 339 717.8 341.9 718.3Z" fill="#00ff47" fill-rule="evenodd" stroke="#000" stroke-width="1.0" stroke-linejoin="round"/>
<path d="M326.1 900 520.3 900 520.3 874 513 872.5 503.8 871.2 492.8 869.9 481.8 869 469 868.1 454.4 867.5 441.5 867.1 426.9 867 401.2 867.4 390.3 867.8 379.3 868.5 370.1 869.4 362.8 870.4 355.4 871.8 350 873.3 344.5 875.3 340.8 877.1 337.1 879.4 335.3 880.8 333 882.9 330.1 886.6 328.1 890.2 326.2 895.1 325.2 900ZM520.3 814.7 520.3 758.4 474.5 757.4 456.2 757.3 439.7 757.9 431.6 758.5 423.2 759.5 414.1 761 406.7 762.5 398.9 764.6 393.9 766.5 390.4 768.3 387 770.7 384.9 773.2 384.3 774.4 383.7 776.8 384 779.3 385.1 781.7 385.9 782.9 388.2 785.4 389.6 786.6 393 789 399.8 792.7 405.5 795.1 412.3 797.6 420.3 800 428.7 802.2 436 803.8 445.2 805.6 456.2 807.3 469 809.1 489.2 811.5 519.2 814.6ZM348.1 715.9 353.6 716.1 360.9 715.8 368.3 715 377.4 713.7 390.3 711.4 463.5 697.3 484.1 692.7 502.5 687.8 510.5 685.4 520.3 681.9 520.3 680.5 325.4 680.5 324.9 684.2 324.8 687.8 324.9 691.5 325.3 695.1 326.1 698.8 326.9 701.2 327.9 703.7 329.2 706.1 331 708.5 332.1 709.8 335.3 712.2 337.1 713.2 339 714 342.6 715.1 347.6 715.9Z" fill="#00ff5c" fill-rule="evenodd" stroke="#000" stroke-width="1.0" stroke-linejoin="round"/>
<path d="M329.8 900 516.2 900 520.3 898.3 520.3 876.2 513.4 874.4 503.8 872.6 492.8 871.1 481.8 870 469 869.1 454.4 868.4 439.7 867.9 425.1 867.8 399.4 868.3 388.4 868.9 379.3 869.6 370.1 870.6 362.8 871.8 357.3 872.9 351.8 874.5 346.3 876.6 342.6 878.5 339 881 335.5 884.1 332.6 887.8 330.6 891.5 329.2 895.1 328.2 900ZM518.5 813.5 520.3 813.6 520.3 759.2 478.2 758.2 458 758 441.5 758.6 426.9 760.1 417.7 761.5 410.4 763.1 404.5 764.6 397.8 767.1 393.2 769.5 390.2 772 388.4 774.4 387.6 776.8 387.8 779.3 388.1 780.5 389.5 782.9 391.7 785.4 393 786.6 396.4 789 403.2 792.7 409 795.1 415.8 797.6 423.2 799.8 430.5 801.7 439.6 803.7 448.9 805.4 458 806.8 489.2 810.6 505.6 812.3 517.9 813.4ZM351.8 713.5 357.3 713.8 364.6 713.5 371.9 712.8 381.1 711.6 397.6 708.8 456.2 697.9 476.3 693.6 494.1 689 502.3 686.6 509.6 684.2 518.8 680.5 328.3 680.5 327.8 686.6 328.2 692.7 329 696.4 329.8 698.8 330.8 701.2 332.1 703.7 333.5 705.5 335.2 707.3 337.1 708.9 339 710.1 340.8 711 344.5 712.3 348.1 713.1 350.7 713.4Z" fill="#00ff70" fill-rule="evenodd" stroke="#000" stroke-width="1.0" stroke-linejoin="round"/>
<path d="M331.6 900 511.8 900 517.2 897.6 520.3 895.8 520.3 878.8 518.4 878 511.1 875.8 503.8 874.2 492.8 872.4 481.8 871.1 469 870.1 454.4 869.2 439.7 868.8 425.1 868.7 401.2 869.1 390.3 869.7 381.1 870.4 373.8 871.3 366.4 872.4 359.1 874 353.7 875.6 348.1 877.9 344.5 879.9 340.8 882.5 337.8 885.4 335 889 333.1 892.7 331.8 896.3 331.1 900ZM516.6 812.2 520.3 812.5 520.3 760 481.8 759 459.9 758.8 443.4 759.4 436 760 428 761 419.6 762.4 412.2 764 406 765.9 399.9 768.3 395.8 770.7 393.2 773.2 391.7 775.6 391.3 778.1 391.7 780.5 392.9 782.9 393.9 784.2 396.4 786.6 399.8 789 406.5 792.7 412.3 795.1 419.3 797.6 426.9 799.8 434.2 801.6 443.4 803.5 459.9 806.2 489.2 809.7 516 812.2ZM353.6 711.2 359.1 711.6 366.4 711.5 373.8 710.9 382.9 709.8 404.9 706.3 450.7 698 470.8 693.9 481 691.5 489.2 689.3 501.9 685.4 508.6 682.9 514.2 680.5 331.2 680.5 330.9 682.9 330.8 686.6 331.1 690.3 331.5 692.7 332.9 697.6 334.1 700 335.3 701.9 337.1 704.2 339 705.8 342.6 708.2 346.6 709.8 352.1 711Z" fill="#00ff85" fill-rule="evenodd" stroke="#000" stroke-width="1.0" stroke-linejoin="round"/>
<path d="M335.3 900 507.6 900 515 896.3 518.6 893.9 520.3 892.4 520.3 882.6 517.2 880.5 514.7 879.3 511.6 878 503.8 875.9 496.7 874.4 488.9 873.2 478.2 871.9 465.3 870.8 452.5 870.1 439.7 869.6 425.1 869.5 403.1 869.9 393.9 870.4 384.8 871.1 377.1 872 369.2 873.2 362.8 874.5 357.3 876.1 352.1 878 348.1 880.1 344.5 882.4 341.1 885.4 338.1 889 336 892.7 334.7 896.3 333.9 900ZM514.8 811.1 520.3 811.4 520.3 760.9 485.5 759.9 461.7 759.6 452.5 759.8 445.2 760.2 437.9 760.8 430.5 761.7 423.2 762.9 415.2 764.6 410.4 766 404.5 768.3 400 770.7 397.1 773.2 395.4 775.6 394.8 778.1 395.1 780.5 396.3 782.9 397.2 784.2 399.7 786.6 403 789 407.3 791.5 412.6 793.9 419.1 796.3 426.9 798.8 434.2 800.7 442.2 802.4 450.7 804 459.9 805.4 472.7 807 487.3 808.7 513.5 811ZM353.6 708.7 359.1 709.4 364.6 709.6 371.9 709.4 381.1 708.6 390.3 707.4 403.1 705.4 441.5 698.8 463.5 694.6 481.8 690.3 490.4 687.8 497.9 685.4 504.5 682.9 509.9 680.5 334.1 680.5 333.7 685.4 334.2 690.3 334.7 692.7 335.5 695.1 337.4 698.8 339 701 340.3 702.5 343.4 704.9 345.5 706.1 348.1 707.2 352.9 708.5Z" fill="#00ff99" fill-rule="evenodd" stroke="#000" stroke-width="1.0" stroke-linejoin="round"/>
<path d="M337.1 900 503.6 900 508.6 897.6 512.5 895.1 514.1 893.9 516.5 891.5 517.2 890.2 517.7 889 517.8 887.8 517.7 886.6 517.2 885.4 516.3 884.1 515.1 882.9 513.4 881.7 511.2 880.5 508.4 879.3 502 877.2 495.1 875.6 487.3 874.2 476.3 872.8 465.3 871.8 452.5 871 439.7 870.5 425.1 870.3 403.1 870.8 393.9 871.3 384.8 872.1 376.5 873.2 370.1 874.3 364.2 875.6 359.1 877.1 353.7 879.3 350 881.2 346.3 883.7 343.2 886.6 341.2 889 339 892.7 337.6 896.3 336.8 900ZM511.1 809.8 520.3 810.3 520.3 761.7 489.2 760.7 463.5 760.4 454.4 760.6 447 760.9 433.9 762.2 426.9 763.3 420.5 764.6 414.1 766.4 408.9 768.3 404.1 770.7 400.9 773.2 399.1 775.6 398.5 776.8 398.3 778.1 398.5 780.5 398.9 781.7 400.5 784.2 402.9 786.6 406.2 789 410.5 791.5 415.9 793.9 422.5 796.3 428.7 798.3 435.3 800 443.4 801.8 450.7 803.1 459.9 804.6 483.7 807.4 510.5 809.8ZM360.9 707.4 366.4 707.7 373.8 707.6 381.1 707.1 388.4 706.3 412.2 702.9 447 697 467.2 692.9 482.5 689 494.1 685.4 500.5 682.9 505.9 680.5 337 680.5 336.7 685.4 336.9 687.8 337.3 690.3 338 692.7 339.1 695.1 341.4 698.8 343.8 701.2 345.4 702.5 347.4 703.7 349.9 704.9 355.4 706.6 360.3 707.3Z" fill="#00ffad" fill-rule="evenodd" stroke="#000" stroke-width="1.0" stroke-linejoin="round"/>
<path d="M340.8 900 499.8 900 504.6 897.6 508.4 895.1 509.8 893.9 512 891.5 512.6 890.2 513 889 513 887.8 512.7 886.6 512.1 885.4 511 884.1 509.6 882.9 507.7 881.7 503.8 879.9 498.2 878 491 876.3 481.8 874.7 472.7 873.5 461.7 872.5 450.7 871.8 437.9 871.3 425.1 871.2 404.9 871.6 395.7 872.2 386.6 873 379.3 873.9 371.9 875.2 366.4 876.5 361.2 878 357.3 879.6 352.9 881.7 349.2 884.1 346.4 886.6 344.2 889 341.9 892.7 340.4 896.3 339.7 900ZM507.5 808.6 520.3 809.2 520.3 762.6 492.8 761.6 467.2 761.2 450.7 761.6 437.9 762.7 432.4 763.5 425.1 764.8 419.6 766.2 413.2 768.3 410.4 769.5 406.2 772 403.5 774.4 402.6 775.6 402 776.8 401.7 778.1 401.6 779.3 402.2 781.7 403.6 784.2 404.7 785.4 407.6 787.8 411.4 790.2 416.3 792.7 422.4 795.1 428.7 797.2 436 799.2 443.4 800.9 451.6 802.4 459.9 803.7 481.8 806.4 507.1 808.5ZM359.1 704.9 364.6 705.7 370.1 705.9 377.4 705.8 386.6 705.2 395.7 704.1 406.7 702.6 437.9 697.7 459.9 693.6 476.3 689.7 482.9 687.8 490.4 685.4 496.7 682.9 502 680.5 339.8 680.5 339.6 682.9 339.6 685.4 340.2 689 341.4 692.7 343.6 696.4 346.3 699.2 350 701.8 353.6 703.4 358.9 704.9Z" fill="#00ffc2" fill-rule="evenodd" stroke="#000" stroke-width="1.0" stroke-linejoin="round"/>
<path d="M342.6 900 496.1 900 500.8 897.6 504.3 895.1 505.7 893.9 507.6 891.5 508.2 890.2 508.4 889 508.3 887.8 507.9 886.6 507.1 885.4 505.9 884.1 504.2 882.9 502 881.7 499.3 880.5 492.8 878.4 486.2 876.8 479.4 875.6 470.5 874.4 459.9 873.4 448.9 872.6 437.9 872.2 425.1 872.1 404.9 872.6 395.7 873.1 388.4 873.8 381.1 874.8 375.6 875.7 370.1 876.9 364.6 878.5 359.3 880.5 355.4 882.4 351.8 884.8 348.4 887.8 346.3 890.3 344.2 893.9 343.3 896.3 342.6 900ZM503.8 807.4 520.3 808.1 520.3 763.4 494.7 762.4 469 762 452.5 762.4 439.9 763.4 432.4 764.5 426.9 765.6 421.4 767.1 417.6 768.3 414.1 769.7 410 772 407 774.4 406.1 775.6 405.4 776.8 405 778.1 404.9 779.3 405.4 781.7 406.8 784.2 409.2 786.6 412.5 789 416.9 791.5 422.5 793.9 429.4 796.3 436 798.2 443.4 800 458 802.6 478.2 805.1 503.4 807.3ZM366.4 703.9 371.9 704.2 379.3 704.2 386.6 703.8 393.9 703.1 415.9 700.2 443.4 695.8 459.9 692.7 475 689 486.8 685.4 493.1 682.9 498.2 680.5 342.7 680.5 342.5 682.9 342.6 685.4 343.4 689 344.9 692.7 346.3 694.7 347.7 696.4 350.6 698.8 352.5 700 355.1 701.2 359.1 702.6 364.8 703.7Z" fill="#00ffd6" fill-rule="evenodd" stroke="#000" stroke-width="1.0" stroke-linejoin="round"/>
<path d="M346.3 900 492.5 900 497 897.6 500.5 895.1 502.7 892.7 503.4 891.5 503.9 890.2 504 889 503.7 887.8 503.1 886.6 502.2 885.4 500.8 884.1 498.9 882.9 494.7 880.9 489.7 879.3 483.7 877.8 476.3 876.4 467.2 875.1 458 874.2 447 873.5 436 873.1 425.1 873 406.7 873.4 397.6 874 390.3 874.7 383 875.6 377.4 876.6 371 878 366.4 879.4 362.8 880.8 358.3 882.9 354.4 885.4 351.5 887.8 349.3 890.2 347.1 893.9 346.1 896.3 345.5 900ZM500.2 806.2 511.1 806.8 520.3 807.1 520.3 764.3 496.5 763.3 470.8 762.8 456.2 763.1 443.4 764 437.9 764.7 430.5 766 425.1 767.4 419.6 769.2 416 770.7 412 773.2 410.4 774.6 408.8 776.8 408.3 778.1 408.1 779.3 408.2 780.5 408.5 781.7 409.9 784.2 412.3 786.6 415.6 789 420.1 791.5 425.8 793.9 430.5 795.6 436 797.2 442.4 798.8 448.9 800.2 458 801.8 476.3 804.1 499.4 806.1ZM371.9 702.5 377.4 702.7 384.8 702.5 399.4 701.3 421.4 698.4 445.2 694.6 461.7 691.4 475.6 687.8 486.5 684.2 492.2 681.7 494.6 680.5 345.6 680.5 345.4 682.9 345.6 685.4 346.6 689 348.6 692.7 350 694.4 351.8 696.1 355.4 698.5 359.1 700.1 364.6 701.6 371.7 702.5Z" fill="#00ffeb" fill-rule="evenodd" stroke="#000" stroke-width="1.0" stroke-linejoin="round"/>
<path d="M350 900 489 900 493.4 897.6 496.7 895.1 498.8 892.7 499.4 891.5 499.7 890.2 499.6 889 499.3 887.8 498.5 886.6 497.4 885.4 494.7 883.5 491 881.7 485.5 879.9 478.2 878.1 471 876.8 463.5 875.8 454.4 875 445.2 874.3 436 874 425.1 873.9 406.7 874.3 392.1 875.5 384.8 876.5 379.3 877.5 373.8 878.7 368.3 880.4 364.6 881.8 359.8 884.1 356.2 886.6 353.6 888.9 351.5 891.5 350 893.9 349 896.3 348.4 900ZM496.5 805 509.3 805.7 520.3 806 520.3 765.2 498.3 764.2 474.5 763.7 458 763.9 445.2 764.8 437.9 765.8 432.4 766.8 426.9 768.2 422.9 769.5 419.6 770.9 415.6 773.2 414.1 774.5 413 775.6 412.1 776.8 411.6 778.1 411.3 779.3 411.4 780.5 411.7 781.7 413 784.2 415.3 786.6 418.8 789 423.2 791.4 426.9 793 432.4 795 437.9 796.6 445.2 798.4 458 800.9 474.5 803 495.3 804.9ZM368.3 700.2 373.8 700.8 379.3 701.1 386.6 701 393.9 700.6 412.2 698.7 436 695.3 454.4 692 469 688.6 476 686.6 481.8 684.6 486 682.9 491 680.5 348.5 680.5 348.5 684.2 349 686.6 350 689 350.7 690.3 352.5 692.7 355.5 695.3 359.1 697.5 362.8 698.9 367.5 700Z" fill="#00ffff" fill-rule="evenodd" stroke="#000" stroke-width="1.0" stroke-linejoin="round"/>
<path d="M351.8 900 485.5 900 489.9 897.6 493 895.1 494.1 893.9 494.9 892.7 495.4 891.5 495.6 890.2 495.4 889 494.9 887.8 494 886.6 492.6 885.4 490.8 884.1 487.3 882.5 481.8 880.5 476.8 879.3 470.7 878 462.3 876.8 454.4 876 445.2 875.3 436 874.9 425.1 874.8 415.9 874.9 406.7 875.3 399.4 875.8 392.1 876.6 384.8 877.6 379.3 878.7 373.8 880.1 370.1 881.3 366.1 882.9 362.8 884.6 359.6 886.6 356.7 889 354.5 891.5 353 893.9 352 896.3 351.4 900ZM518.5 804.9 520.3 804.9 520.3 766.1 498.3 765 476.3 764.5 459.9 764.7 447 765.6 441.5 766.3 436 767.2 431.4 768.3 426.9 769.7 423.2 771.1 419.3 773.2 417.7 774.4 416.4 775.6 415.5 776.8 414.9 778.1 414.6 779.3 414.5 780.5 414.8 781.7 415.3 782.9 417.1 785.4 419.6 787.4 421.9 789 425.1 790.7 429.5 792.7 434.2 794.4 439.7 796.1 451.3 798.8 465.3 801.1 481.8 802.9 500.2 804.3 516.7 804.9ZM371.9 698.8 377.4 699.4 382.9 699.6 390.3 699.5 397.6 699 415.9 697.2 437.9 694.1 454.4 691.1 468.2 687.8 474.5 685.9 479.6 684.2 485.2 681.7 487.5 680.5 351.5 680.5 351.6 684.2 352.3 686.6 353.5 689 354.3 690.3 356.6 692.7 359.1 694.5 362.8 696.4 366.4 697.6 371.9 698.8Z" fill="#00ebff" fill-rule="evenodd" stroke="#000" stroke-width="1.0" stroke-linejoin="round"/>
<path d="M355.4 900 482.1 900 484.5 898.8 488.1 896.3 490.4 893.9 491.1 892.7 491.5 891.5 491.5 890.2 491.2 889 490.6 887.8 489.5 886.6 487.3 885 483.2 882.9 478.2 881.2 472.7 879.8 467.2 878.8 459.9 877.7 451.8 876.8 443.4 876.2 434.2 875.8 425.1 875.7 410.4 876.1 395.7 877.2 389.5 878 382.9 879.2 377.6 880.5 373.5 881.7 368.3 883.8 365.1 885.4 362.8 886.8 359.9 889 357.6 891.5 356 893.9 355 896.3 354.5 898.8 354.4 900ZM509.3 803.7 520.3 803.8 520.3 767 507.5 766.2 494.7 765.7 474.5 765.3 459.9 765.6 448.9 766.4 443.4 767.1 437.9 768.1 432.4 769.4 428.3 770.7 425.1 772.1 421.4 774.3 419.9 775.6 418.9 776.8 418.2 778.1 417.8 779.3 417.7 780.5 418 781.7 418.4 782.9 419.2 784.2 420.3 785.4 423.2 787.8 426.9 790 430.5 791.7 436 793.8 445.2 796.4 450.7 797.7 458 799.1 472.7 801.1 491 802.7 508.2 803.7ZM377.4 697.7 382.9 698.1 388.4 698.1 401.2 697.6 419.6 695.7 439.7 692.9 454.4 690.2 467.2 687.1 476.1 684.2 481.8 681.7 484.1 680.5 354.5 680.5 354.6 682.9 354.8 684.2 355.7 686.6 357.2 689 359.5 691.5 362.8 693.7 366.4 695.3 370.1 696.4 376.5 697.6Z" fill="#00d6ff" fill-rule="evenodd" stroke="#000" stroke-width="1.0" stroke-linejoin="round"/>
<path d="M359.1 900 478.8 900 481.1 898.8 484.6 896.3 485.9 895.1 486.8 893.9 487.4 892.7 487.6 891.5 487.6 890.2 487.1 889 486.3 887.8 485 886.6 483.7 885.7 480.8 884.1 476.3 882.4 470.8 880.9 465.3 879.8 458 878.6 450.7 877.8 441.5 877.1 425.1 876.7 410.4 877.1 403.1 877.6 395.7 878.3 389.3 879.3 383.1 880.5 378.4 881.7 374.6 882.9 370.1 884.8 366.7 886.6 364.6 888 361.9 890.2 359.8 892.7 358.5 895.1 357.7 897.6 357.6 900ZM502 802.4 511.1 802.7 520.3 802.7 520.3 767.9 503.8 766.9 483.7 766.3 467.2 766.3 454.4 766.9 443.4 768.2 437.9 769.3 434.2 770.3 429.5 772 427 773.2 425 774.4 423.4 775.6 422.3 776.8 421.4 778.4 421.1 779.3 421 780.5 421.1 781.7 421.6 782.9 422.4 784.2 424.8 786.6 426.9 788.1 430.5 790.1 433.5 791.5 437.9 793.1 444.5 795.1 455 797.6 469 799.7 485.5 801.4 501.9 802.4ZM382.9 696.5 388.4 696.7 393.9 696.7 406.7 696 425.1 694.1 441.5 691.7 454.4 689.3 465.1 686.6 472.7 684.1 478.2 681.8 480.7 680.5 357.6 680.5 357.8 682.9 358.1 684.2 359.2 686.6 361.1 689 364.1 691.5 368.3 693.6 371.9 694.8 375.6 695.6 381.1 696.4Z" fill="#00c2ff" fill-rule="evenodd" stroke="#000" stroke-width="1.0" stroke-linejoin="round"/>
<path d="M360.9 900 475.4 900 477.7 898.8 481.1 896.3 482.3 895.1 483.2 893.9 483.7 892.7 483.8 891.5 483.6 890.2 483 889 481.9 887.8 480 886.3 476.3 884.4 472.2 882.9 467.2 881.6 461.7 880.5 454.4 879.4 447 878.6 439.7 878.1 425.1 877.7 410.4 878.1 397.6 879.2 386.6 881.1 381.1 882.4 377.4 883.6 373.8 885 370.5 886.6 366.7 889 364.6 890.9 363.1 892.7 361.6 895.1 360.9 897.6 360.8 900ZM496.5 801.2 509.3 801.7 520.3 801.6 520.3 768.9 507.5 768 489.2 767.3 472.7 767.1 459.9 767.5 448.9 768.5 442.9 769.5 437.9 770.7 433.9 772 431 773.2 428.8 774.4 427.1 775.6 425.8 776.8 424.9 778.1 424.4 779.3 424.3 780.5 424.4 781.7 424.9 782.9 425.6 784.2 426.7 785.4 428.1 786.6 430.5 788.3 434.3 790.2 437.9 791.7 444.4 793.9 454.4 796.4 467.2 798.6 481.8 800.2 496.5 801.2ZM386.6 695.2 395.7 695.3 408.6 694.7 425.1 693.1 439.7 691.1 450.9 689 461.7 686.5 465.4 685.4 470.8 683.5 475 681.7 477.3 680.5 360.8 680.5 361.1 682.9 362.1 685.4 364 687.8 367 690.3 370.1 691.9 372.3 692.7 375.6 693.7 381.1 694.7 386 695.1Z" fill="#00adff" fill-rule="evenodd" stroke="#000" stroke-width="1.0" stroke-linejoin="round"/>
<path d="M364.6 900 471.9 900 474.2 898.8 477.7 896.3 478.8 895.1 479.6 893.9 480 892.7 480 891.5 479.6 890.2 478.8 889 477.6 887.8 476.3 886.9 473.4 885.4 470.3 884.1 465.3 882.7 459.9 881.5 453.6 880.5 447 879.7 439.7 879.2 425.1 878.7 412.2 879.1 399.4 880.2 389.8 881.7 384.8 882.9 380.5 884.1 375.6 886.1 372.2 887.8 370.1 889.2 367.5 891.5 366.4 892.7 364.9 895.1 364.2 897.6 364.2 900ZM492.8 800.1 507.5 800.6 520.3 800.5 520.3 769.8 507.5 768.9 491 768.2 474.5 768 463.1 768.3 452.5 769.2 443.4 770.7 438.8 772 436 772.9 432.8 774.4 430.9 775.6 429.5 776.8 428.5 778.1 427.9 779.3 427.7 780.5 427.8 781.7 428.7 783.8 430 785.4 432.4 787.2 435.4 789 438 790.2 443.4 792.3 448.6 793.9 453.3 795.1 463.5 797.1 476.3 798.8 491.5 800ZM392.1 694 403.1 693.9 414.1 693.2 426.9 691.9 439.7 690.1 452 687.8 461.6 685.4 468.7 682.9 473.9 680.5 364.1 680.5 364.6 682.9 365.1 684.2 366.4 686.1 368.3 687.9 370 689 371.9 690.1 375.6 691.5 380.1 692.7 384.8 693.4 391.1 693.9Z" fill="#0099ff" fill-rule="evenodd" stroke="#000" stroke-width="1.0" stroke-linejoin="round"/>
<path d="M368.3 900 468.4 900 470.8 898.8 472.7 897.6 474.1 896.3 475.2 895.1 475.9 893.9 476.2 892.7 476.1 891.5 475.6 890.2 474.6 889 473.1 887.8 470.8 886.5 468.3 885.4 463.5 883.8 458 882.6 452.5 881.6 439.7 880.3 425.1 879.8 412.2 880.1 401.2 881.1 395.7 881.9 390.5 882.9 385.6 884.1 381.8 885.4 376.2 887.8 373.8 889.3 371 891.5 369.8 892.7 368.3 895.1 367.6 897.6 367.7 900ZM487.3 798.8 505.6 799.6 520.3 799.5 520.3 770.8 513 770.2 498.3 769.4 481.8 768.9 469 769.1 458 769.7 448.9 771 444.3 772 441.5 772.8 437.9 774.1 436 775 433.4 776.8 432.4 777.9 431.5 779.3 431.2 780.5 431.3 781.7 431.7 782.9 432.4 784.1 433.6 785.4 435 786.6 437.9 788.3 441.9 790.2 445.1 791.5 453 793.9 463.5 796.1 474.5 797.6 487 798.8ZM397.6 692.7 406.7 692.6 417.7 691.9 428.7 690.7 440.6 689 448.9 687.5 457.6 685.4 465.1 682.9 470.4 680.5 367.6 680.5 368.2 682.9 369.9 685.4 371.2 686.6 372.9 687.8 375.6 689.2 379.3 690.5 384.8 691.7 390.3 692.4 397.2 692.7Z" fill="#0085ff" fill-rule="evenodd" stroke="#000" stroke-width="1.0" stroke-linejoin="round"/>
<path d="M371.9 900 464.8 900 467.2 898.8 469.1 897.6 470.6 896.3 471.6 895.1 472.2 893.9 472.4 892.7 472.2 891.5 471.4 890.2 470.2 889 467.2 887.1 463.5 885.6 459.9 884.5 450.7 882.7 443.4 881.8 437.9 881.3 425.1 880.9 414.1 881.2 403.1 882.1 397.5 882.9 392.1 884 384.8 886.1 381.1 887.5 378.2 889 375.6 890.8 373.5 892.7 371.9 894.9 371.3 896.3 371.1 897.6 371.2 898.8 371.4 900ZM483.7 797.6 492.8 798.2 503.8 798.6 513 798.6 520.3 798.4 520.3 771.8 516.6 771.4 502 770.5 487.3 770 474.5 769.9 463.5 770.4 454.4 771.3 447 772.8 442.1 774.4 439.4 775.6 437.5 776.8 436.2 778.1 435.3 779.3 434.9 780.5 435 781.7 435.3 782.9 436.1 784.2 437.9 785.8 440.8 787.8 443.2 789 445.9 790.2 450.7 792 459.9 794.3 470.8 796.2 483.4 797.6ZM388.4 690.5 397.6 691.3 406.7 691.4 419.6 690.6 432.4 689.3 443.4 687.6 453.4 685.4 461.3 682.9 466.8 680.5 371.2 680.5 371.9 682.5 373 684.2 374.3 685.4 376 686.6 378.3 687.8 381.1 688.9 386.7 690.3Z" fill="#0070ff" fill-rule="evenodd" stroke="#000" stroke-width="1.0" stroke-linejoin="round"/>
<path d="M375.6 900 461 900 463.5 898.8 465.4 897.6 467.2 896 467.8 895.1 468.4 893.9 468.4 892.7 468 891.5 467.2 890.3 465.6 889 463.5 887.8 460.6 886.6 456.6 885.4 448.9 883.8 443.4 883.1 437.9 882.6 425.1 882.1 414.1 882.4 403.1 883.4 393.9 885.1 386.6 887.3 382.9 888.8 381.1 889.8 378.7 891.5 377.3 892.7 375.6 895.1 375.1 896.3 374.9 897.6 375 898.8 375.5 900ZM503.8 797.6 513 797.6 520.3 797.3 520.3 772.7 505.6 771.6 487.3 770.9 476.3 770.9 465.4 771.4 458 772.1 450.7 773.5 447.5 774.4 444.4 775.6 442.1 776.8 440.6 778.1 439.5 779.3 439 780.5 439 781.7 439.3 782.9 440.1 784.2 441.3 785.4 442.9 786.6 447.2 789 453.5 791.5 459.9 793.2 470.3 795.1 480 796.3 491 797.1 503 797.6ZM390.3 689.1 397.6 689.9 406.7 690.1 417.7 689.7 428.7 688.7 439.7 687.1 448.7 685.4 457.3 682.9 460.5 681.7 463.1 680.5 375.1 680.5 375.6 681.7 376.4 682.9 377.5 684.2 379.3 685.4 381.5 686.6 384.8 687.8 390.1 689Z" fill="#005afb" fill-rule="evenodd" stroke="#000" stroke-width="1.0" stroke-linejoin="round"/>
<path d="M381.1 900 456.7 900 459.3 898.8 461.3 897.6 462.8 896.3 463.5 895.4 464.2 893.9 464.1 892.7 463.5 891.5 462.3 890.2 460.4 889 457.8 887.8 454.1 886.6 447 885.1 437.9 883.9 432.4 883.6 425.1 883.4 415.9 883.6 406.7 884.4 397.6 885.9 394.8 886.6 390.3 888 387.6 889 384.8 890.5 382.9 891.7 380.6 893.9 379.8 895.1 379.3 896.3 379.2 897.6 379.4 898.8 380 900ZM498.3 796.4 509.3 796.5 520.3 796.1 520.3 773.8 509.3 772.9 492.8 772.1 481.8 771.9 472.7 772.2 463.5 772.8 456.2 773.9 450.7 775.4 447.3 776.8 445.4 778.1 444.2 779.3 443.6 780.5 443.4 781.7 443.7 782.9 444.4 784.2 445.6 785.4 447.1 786.6 451.6 789 454.6 790.2 458.5 791.5 467.2 793.4 476.3 794.8 485.5 795.7 496.8 796.3ZM395.7 688 403.1 688.6 410.4 688.7 419.6 688.4 428.7 687.6 437.9 686.3 443 685.4 448.4 684.2 452.7 682.9 456.2 681.7 458.9 680.5 379.5 680.5 380.2 681.7 381.3 682.9 382.8 684.2 384.8 685.2 388.5 686.6 394.1 687.8Z" fill="#0044f4" fill-rule="evenodd" stroke="#000" stroke-width="1.0" stroke-linejoin="round"/>
<path d="M386.6 900 451.5 900 454.4 898.8 456.5 897.6 458 896.3 458.8 895.1 459.1 893.9 458.9 892.7 458 891.5 456.4 890.2 454 889 450.7 887.9 445.2 886.6 435.9 885.4 425.1 884.9 415.9 885.2 408.6 885.9 401.2 887.1 398.1 887.8 393.9 889.1 391.1 890.2 388.8 891.5 387 892.7 385.8 893.9 384.8 895.5 384.5 896.3 384.4 897.6 384.8 898.8 385.7 900ZM496.5 795.2 509.3 795.3 520.3 794.8 520.3 775 509.3 774.1 494.7 773.3 485.5 773.2 476.3 773.3 467.2 774 461.7 774.7 456.2 776 453.7 776.8 451.2 778.1 449.7 779.3 448.8 780.5 448.4 781.7 448.6 782.9 449.3 784.2 450.4 785.4 452 786.6 454 787.8 456.2 788.8 460.1 790.2 464.5 791.5 470.4 792.7 478.2 793.8 487.3 794.7 495.7 795.1ZM401.2 686.7 406.7 687.1 414.1 687.2 421.4 686.8 428.7 686.2 435.2 685.4 441.9 684.2 447 682.9 450.9 681.7 453.9 680.5 384.9 680.5 386.6 682.3 387.5 682.9 389.8 684.2 393.9 685.5 400.1 686.6Z" fill="#002fec" fill-rule="evenodd" stroke="#000" stroke-width="1.0" stroke-linejoin="round"/>
<path d="M393.9 900 444.1 900 447.4 898.8 449.8 897.6 450.7 896.9 451.4 896.3 452.2 895.1 452.4 893.9 451.7 892.7 450.3 891.5 447.9 890.2 445.2 889.4 439.7 888.1 432.4 887.3 425.1 887 417.7 887.2 410.4 887.9 404.1 889 399.7 890.2 397.6 891.1 394.5 892.7 392.9 893.9 392 895.1 391.5 896.3 391.6 897.6 392.4 898.8 393.8 900ZM481.8 792.7 491 793.4 502 793.8 511.1 793.7 520.3 793.2 520.3 776.5 518.5 776.3 511.1 775.6 500.2 775 489.2 774.7 481.8 774.8 474.5 775.2 469 775.8 463.1 776.8 459.2 778.1 456.9 779.3 456.2 779.8 455.5 780.5 454.9 781.7 454.9 782.9 455.4 784.2 456.5 785.4 458.1 786.6 460.5 787.8 463.5 789 467.6 790.2 473.3 791.5 481.6 792.7ZM403.1 684.4 408.6 685 414.1 685.2 419.6 685.1 426.9 684.6 430.8 684.2 438.2 682.9 443.3 681.7 446.9 680.5 392.6 680.5 394.2 681.7 396.9 682.9 401.7 684.2Z" fill="#001be4" fill-rule="evenodd" stroke="#000" stroke-width="1.0" stroke-linejoin="round"/>
<path d="M408.6 899 413.8 900 425.3 900 433.2 898.8 437.1 897.6 439.2 896.3 440 895.1 439.6 893.9 437.7 892.7 436 892.1 432.4 891.3 425.1 890.7 417.7 891 414.1 891.5 412.2 891.9 408.6 892.9 406.4 893.9 405 895.1 404.7 896.3 405.4 897.6 407.7 898.8ZM498.3 791.5 511.1 791.5 520.3 790.8 520.3 778.8 513 778 498.3 777.2 485.5 777.2 475.1 778.1 469.6 779.3 467.2 780.2 465.1 781.7 464.6 782.9 465 784.2 465.3 784.6 466.1 785.4 468 786.6 470.9 787.8 475.1 789 483.7 790.5 489.2 791 496.8 791.5ZM408.6 680.5 414.1 681.4 419.6 681.7 425.1 681.4 432.1 680.5 408.5 680.5Z" fill="#0009dd" fill-rule="evenodd" stroke="#000" stroke-width="1.0" stroke-linejoin="round"/>
</g>
<clipPath id="cm"><rect x="300.5" y="680.5" width="219.8" height="219.5"/></clipPath>
<g clip-path="url(#cm)">
<g transform="translate(403.8,695.8) rotate(-3)">
<linearGradient id="lg1" x1="0" y1="0" x2="1" y2="0"><stop offset="0" stop-color="#00fff5"/><stop offset="1" stop-color="#008fff"/></linearGradient>
<rect x="-9.8" y="-5.8" width="19.6" height="11.6" fill="url(#lg1)"/>
<text x="0" y="4.4" font-family='"Liberation Sans", Helvetica, Arial, sans-serif' font-size="12.5" text-anchor="middle" fill="#000">0.8</text>
</g>
<g transform="translate(421.3,704.5) rotate(-5)">
<linearGradient id="lg2" x1="0" y1="0" x2="1" y2="0"><stop offset="0" stop-color="#00ff3d"/><stop offset="1" stop-color="#00ffa3"/></linearGradient>
<rect x="-9.8" y="-5.8" width="19.6" height="11.6" fill="url(#lg2)"/>
<text x="0" y="4.4" font-family='"Liberation Sans", Helvetica, Arial, sans-serif' font-size="12.5" text-anchor="middle" fill="#000">0.6</text>
</g>
<g transform="translate(400.3,719.6) rotate(-22)">
<linearGradient id="lg3" x1="0" y1="0" x2="1" y2="0"><stop offset="0" stop-color="#52ff00"/><stop offset="1" stop-color="#8fff00"/></linearGradient>
<rect x="-9.0" y="-5.0" width="18.0" height="10.0" fill="url(#lg3)"/>
<text x="0" y="4.4" font-family='"Liberation Sans", Helvetica, Arial, sans-serif' font-size="12.5" text-anchor="middle" fill="#000">0.4</text>
</g>
<g transform="translate(444.0,722.8) rotate(-35)">
<linearGradient id="lg4" x1="0" y1="0" x2="1" y2="0"><stop offset="0" stop-color="#ffff00"/><stop offset="1" stop-color="#ffad00"/></linearGradient>
<rect x="-9.0" y="-5.0" width="18.0" height="10.0" fill="url(#lg4)"/>
<text x="0" y="4.4" font-family='"Liberation Sans", Helvetica, Arial, sans-serif' font-size="12.5" text-anchor="middle" fill="#000">0.2</text>
</g>
<g transform="translate(499.6,702.9) rotate(-5)">
<linearGradient id="lg5" x1="0" y1="0" x2="1" y2="0"><stop offset="0" stop-color="#b8ff00"/><stop offset="1" stop-color="#29ff00"/></linearGradient>
<rect x="-9.8" y="-5.8" width="19.6" height="11.6" fill="url(#lg5)"/>
<text x="0" y="4.4" font-family='"Liberation Sans", Helvetica, Arial, sans-serif' font-size="12.5" text-anchor="middle" fill="#000">0.4</text>
</g>
<g transform="translate(420.2,751.2) rotate(0)">
<linearGradient id="lg6" x1="0" y1="0" x2="0" y2="1"><stop offset="0" stop-color="#8fff00"/><stop offset="1" stop-color="#3dff00"/></linearGradient>
<rect x="-9.8" y="-5.8" width="19.6" height="11.6" fill="url(#lg6)"/>
<text x="0" y="4.4" font-family='"Liberation Sans", Helvetica, Arial, sans-serif' font-size="12.5" text-anchor="middle" fill="#000">0.4</text>
</g>
<g transform="translate(463.3,760.0) rotate(3)">
<linearGradient id="lg7" x1="0" y1="0" x2="1" y2="0"><stop offset="0" stop-color="#00ff00"/><stop offset="1" stop-color="#00ff7a"/></linearGradient>
<rect x="-9.8" y="-5.8" width="19.6" height="11.6" fill="url(#lg7)"/>
<text x="0" y="4.4" font-family='"Liberation Sans", Helvetica, Arial, sans-serif' font-size="12.5" text-anchor="middle" fill="#000">0.6</text>
</g>
<g transform="translate(453.0,773.0) rotate(-12)">
<linearGradient id="lg8" x1="0" y1="0" x2="1" y2="0"><stop offset="0" stop-color="#00ffcc"/><stop offset="1" stop-color="#00ccff"/></linearGradient>
<rect x="-9.0" y="-5.0" width="18.0" height="10.0" fill="url(#lg8)"/>
<text x="0" y="4.4" font-family='"Liberation Sans", Helvetica, Arial, sans-serif' font-size="12.5" text-anchor="middle" fill="#000">0.8</text>
</g>
<g transform="translate(316.5,770.0) rotate(3)">
<rect x="-9.0" y="-4.5" width="18.0" height="9.0" fill="#47ff00"/>
<text x="0" y="4.4" font-family='"Liberation Sans", Helvetica, Arial, sans-serif' font-size="12.5" text-anchor="middle" fill="#000">0.4</text>
</g>
<g transform="translate(331.0,689.3) rotate(75)">
<rect x="-8.5" y="-4.5" width="17.0" height="9.0" fill="#00ff3d"/>
<text x="0" y="4.4" font-family='"Liberation Sans", Helvetica, Arial, sans-serif' font-size="12.5" text-anchor="middle" fill="#000">0.6</text>
</g>
<g transform="translate(424.4,796.5) rotate(25)">
<linearGradient id="lg9" x1="0" y1="0" x2="1" y2="0"><stop offset="0" stop-color="#00ff14"/><stop offset="1" stop-color="#00ff66"/></linearGradient>
<rect x="-9.8" y="-5.8" width="19.6" height="11.6" fill="url(#lg9)"/>
<text x="0" y="4.4" font-family='"Liberation Sans", Helvetica, Arial, sans-serif' font-size="12.5" text-anchor="middle" fill="#000">0.6</text>
</g>
<g transform="translate(407.9,803.5) rotate(15)">
<linearGradient id="lg10" x1="0" y1="0" x2="1" y2="0"><stop offset="0" stop-color="#a3ff00"/><stop offset="1" stop-color="#3dff00"/></linearGradient>
<rect x="-9.8" y="-5.8" width="19.6" height="11.6" fill="url(#lg10)"/>
<text x="0" y="4.4" font-family='"Liberation Sans", Helvetica, Arial, sans-serif' font-size="12.5" text-anchor="middle" fill="#000">0.4</text>
</g>
<g transform="translate(387.1,811.8) rotate(3)">
<linearGradient id="lg11" x1="0" y1="0" x2="1" y2="0"><stop offset="0" stop-color="#ffff00"/><stop offset="1" stop-color="#ffc200"/></linearGradient>
<rect x="-9.8" y="-5.8" width="19.6" height="11.6" fill="url(#lg11)"/>
<text x="0" y="4.4" font-family='"Liberation Sans", Helvetica, Arial, sans-serif' font-size="12.5" text-anchor="middle" fill="#000">0.2</text>
</g>
<g transform="translate(344.0,834.5) rotate(58)">
<rect x="-8.5" y="-4.5" width="17.0" height="9.0" fill="#fff000"/>
<text x="0" y="4.4" font-family='"Liberation Sans", Helvetica, Arial, sans-serif' font-size="12.5" text-anchor="middle" fill="#000">0.2</text>
</g>
<g transform="translate(319.9,857.9) rotate(25)">
<rect x="-9.0" y="-4.5" width="18.0" height="9.0" fill="#52ff00"/>
<text x="0" y="4.4" font-family='"Liberation Sans", Helvetica, Arial, sans-serif' font-size="12.5" text-anchor="middle" fill="#000">0.4</text>
</g>
<g transform="translate(486.4,829.4) rotate(18)">
<linearGradient id="lg12" x1="0" y1="0" x2="1" y2="0"><stop offset="0" stop-color="#ffcc00"/><stop offset="1" stop-color="#fff500"/></linearGradient>
<rect x="-9.0" y="-5.0" width="18.0" height="10.0" fill="url(#lg12)"/>
<text x="0" y="4.4" font-family='"Liberation Sans", Helvetica, Arial, sans-serif' font-size="12.5" text-anchor="middle" fill="#000">0.2</text>
</g>
<g transform="translate(506.8,822.0) rotate(8)">
<linearGradient id="lg13" x1="0" y1="0" x2="1" y2="0"><stop offset="0" stop-color="#a3ff00"/><stop offset="1" stop-color="#29ff00"/></linearGradient>
<rect x="-9.8" y="-5.8" width="19.6" height="11.6" fill="url(#lg13)"/>
<text x="0" y="4.4" font-family='"Liberation Sans", Helvetica, Arial, sans-serif' font-size="12.5" text-anchor="middle" fill="#000">0.4</text>
</g>
<g transform="translate(440.0,854.4) rotate(0)">
<linearGradient id="lg14" x1="0" y1="0" x2="0" y2="1"><stop offset="0" stop-color="#ff9900"/><stop offset="1" stop-color="#ebff00"/></linearGradient>
<rect x="-9.8" y="-5.8" width="19.6" height="11.6" fill="url(#lg14)"/>
<text x="0" y="4.4" font-family='"Liberation Sans", Helvetica, Arial, sans-serif' font-size="12.5" text-anchor="middle" fill="#000">0.2</text>
</g>
<g transform="translate(418.4,871.6) rotate(0)">
<linearGradient id="lg15" x1="0" y1="0" x2="0" y2="1"><stop offset="0" stop-color="#00ff7a"/><stop offset="1" stop-color="#00ffe0"/></linearGradient>
<rect x="-9.8" y="-5.2" width="19.6" height="10.5" fill="url(#lg15)"/>
<text x="0" y="4.4" font-family='"Liberation Sans", Helvetica, Arial, sans-serif' font-size="12.5" text-anchor="middle" fill="#000">0.6</text>
</g>
<rect x="408.6" y="864.6" width="21.4" height="5.2" fill="#000"/>
<g transform="translate(419.7,860.6) rotate(0)">
<linearGradient id="lg16" x1="0" y1="0" x2="0" y2="1"><stop offset="0" stop-color="#ccff00"/><stop offset="1" stop-color="#66ff00"/></linearGradient>
<rect x="-9.8" y="-4.2" width="19.6" height="8.4" fill="url(#lg16)"/>
<text x="0" y="4.4" font-family='"Liberation Sans", Helvetica, Arial, sans-serif' font-size="12.5" text-anchor="middle" fill="#000">0.4</text>
</g>
<rect x="409.7" y="863.2" width="20" height="1.8" fill="#000"/>
<g transform="translate(452.3,879.4) rotate(0)">
<linearGradient id="lg17" x1="0" y1="0" x2="1" y2="0"><stop offset="0" stop-color="#00ffcc"/><stop offset="1" stop-color="#008fff"/></linearGradient>
<rect x="-9.8" y="-5.8" width="19.6" height="11.6" fill="url(#lg17)"/>
<text x="0" y="4.4" font-family='"Liberation Sans", Helvetica, Arial, sans-serif' font-size="12.5" text-anchor="middle" fill="#000">0.8</text>
</g>
<g transform="translate(517.3,873.8) rotate(-15)">
<linearGradient id="lg18" x1="0" y1="0" x2="1" y2="0"><stop offset="0" stop-color="#29ff00"/><stop offset="1" stop-color="#00ff29"/></linearGradient>
<rect x="-9.8" y="-5.8" width="19.6" height="11.6" fill="url(#lg18)"/>
<text x="0" y="4.4" font-family='"Liberation Sans", Helvetica, Arial, sans-serif' font-size="12.5" text-anchor="middle" fill="#000">0.6</text>
</g>
</g>
<polygon points="413.6,827.6 415.2,832.2 420.1,832.3 416.2,835.2 417.6,839.9 413.6,837.1 409.6,839.9 411.0,835.2 407.1,832.3 412.0,832.2" fill="#000"/>
<rect x="300.50" y="680.50" width="219.80" height="219.50" fill="none" stroke="#000" stroke-width="2.4"/>
<line x1="300.50" y1="680.50" x2="300.50" y2="672.00" stroke="#000" stroke-width="1.2" />
<line x1="300.50" y1="900.00" x2="300.50" y2="908.50" stroke="#000" stroke-width="1.2" />
<line x1="307.83" y1="680.50" x2="307.83" y2="675.80" stroke="#000" stroke-width="1.2" />
<line x1="307.83" y1="900.00" x2="307.83" y2="904.70" stroke="#000" stroke-width="1.2" />
<line x1="315.15" y1="680.50" x2="315.15" y2="675.80" stroke="#000" stroke-width="1.2" />
<line x1="315.15" y1="900.00" x2="315.15" y2="904.70" stroke="#000" stroke-width="1.2" />
<line x1="322.48" y1="680.50" x2="322.48" y2="675.80" stroke="#000" stroke-width="1.2" />
<line x1="322.48" y1="900.00" x2="322.48" y2="904.70" stroke="#000" stroke-width="1.2" />
<line x1="329.81" y1="680.50" x2="329.81" y2="675.80" stroke="#000" stroke-width="1.2" />
<line x1="329.81" y1="900.00" x2="329.81" y2="904.70" stroke="#000" stroke-width="1.2" />
<line x1="337.13" y1="680.50" x2="337.13" y2="672.00" stroke="#000" stroke-width="1.2" />
<line x1="337.13" y1="900.00" x2="337.13" y2="908.50" stroke="#000" stroke-width="1.2" />
<line x1="344.46" y1="680.50" x2="344.46" y2="675.80" stroke="#000" stroke-width="1.2" />
<line x1="344.46" y1="900.00" x2="344.46" y2="904.70" stroke="#000" stroke-width="1.2" />
<line x1="351.79" y1="680.50" x2="351.79" y2="675.80" stroke="#000" stroke-width="1.2" />
<line x1="351.79" y1="900.00" x2="351.79" y2="904.70" stroke="#000" stroke-width="1.2" />
<line x1="359.11" y1="680.50" x2="359.11" y2="675.80" stroke="#000" stroke-width="1.2" />
<line x1="359.11" y1="900.00" x2="359.11" y2="904.70" stroke="#000" stroke-width="1.2" />
<line x1="366.44" y1="680.50" x2="366.44" y2="675.80" stroke="#000" stroke-width="1.2" />
<line x1="366.44" y1="900.00" x2="366.44" y2="904.70" stroke="#000" stroke-width="1.2" />
<line x1="373.77" y1="680.50" x2="373.77" y2="672.00" stroke="#000" stroke-width="1.2" />
<line x1="373.77" y1="900.00" x2="373.77" y2="908.50" stroke="#000" stroke-width="1.2" />
<line x1="381.09" y1="680.50" x2="381.09" y2="675.80" stroke="#000" stroke-width="1.2" />
<line x1="381.09" y1="900.00" x2="381.09" y2="904.70" stroke="#000" stroke-width="1.2" />
<line x1="388.42" y1="680.50" x2="388.42" y2="675.80" stroke="#000" stroke-width="1.2" />
<line x1="388.42" y1="900.00" x2="388.42" y2="904.70" stroke="#000" stroke-width="1.2" />
<line x1="395.75" y1="680.50" x2="395.75" y2="675.80" stroke="#000" stroke-width="1.2" />
<line x1="395.75" y1="900.00" x2="395.75" y2="904.70" stroke="#000" stroke-width="1.2" />
<line x1="403.07" y1="680.50" x2="403.07" y2="675.80" stroke="#000" stroke-width="1.2" />
<line x1="403.07" y1="900.00" x2="403.07" y2="904.70" stroke="#000" stroke-width="1.2" />
<line x1="410.40" y1="680.50" x2="410.40" y2="672.00" stroke="#000" stroke-width="1.2" />
<line x1="410.40" y1="900.00" x2="410.40" y2="908.50" stroke="#000" stroke-width="1.2" />
<line x1="417.73" y1="680.50" x2="417.73" y2="675.80" stroke="#000" stroke-width="1.2" />
<line x1="417.73" y1="900.00" x2="417.73" y2="904.70" stroke="#000" stroke-width="1.2" />
<line x1="425.05" y1="680.50" x2="425.05" y2="675.80" stroke="#000" stroke-width="1.2" />
<line x1="425.05" y1="900.00" x2="425.05" y2="904.70" stroke="#000" stroke-width="1.2" />
<line x1="432.38" y1="680.50" x2="432.38" y2="675.80" stroke="#000" stroke-width="1.2" />
<line x1="432.38" y1="900.00" x2="432.38" y2="904.70" stroke="#000" stroke-width="1.2" />
<line x1="439.71" y1="680.50" x2="439.71" y2="675.80" stroke="#000" stroke-width="1.2" />
<line x1="439.71" y1="900.00" x2="439.71" y2="904.70" stroke="#000" stroke-width="1.2" />
<line x1="447.03" y1="680.50" x2="447.03" y2="672.00" stroke="#000" stroke-width="1.2" />
<line x1="447.03" y1="900.00" x2="447.03" y2="908.50" stroke="#000" stroke-width="1.2" />
<line x1="454.36" y1="680.50" x2="454.36" y2="675.80" stroke="#000" stroke-width="1.2" />
<line x1="454.36" y1="900.00" x2="454.36" y2="904.70" stroke="#000" stroke-width="1.2" />
<line x1="461.69" y1="680.50" x2="461.69" y2="675.80" stroke="#000" stroke-width="1.2" />
<line x1="461.69" y1="900.00" x2="461.69" y2="904.70" stroke="#000" stroke-width="1.2" />
<line x1="469.01" y1="680.50" x2="469.01" y2="675.80" stroke="#000" stroke-width="1.2" />
<line x1="469.01" y1="900.00" x2="469.01" y2="904.70" stroke="#000" stroke-width="1.2" />
<line x1="476.34" y1="680.50" x2="476.34" y2="675.80" stroke="#000" stroke-width="1.2" />
<line x1="476.34" y1="900.00" x2="476.34" y2="904.70" stroke="#000" stroke-width="1.2" />
<line x1="483.67" y1="680.50" x2="483.67" y2="672.00" stroke="#000" stroke-width="1.2" />
<line x1="483.67" y1="900.00" x2="483.67" y2="908.50" stroke="#000" stroke-width="1.2" />
<line x1="490.99" y1="680.50" x2="490.99" y2="675.80" stroke="#000" stroke-width="1.2" />
<line x1="490.99" y1="900.00" x2="490.99" y2="904.70" stroke="#000" stroke-width="1.2" />
<line x1="498.32" y1="680.50" x2="498.32" y2="675.80" stroke="#000" stroke-width="1.2" />
<line x1="498.32" y1="900.00" x2="498.32" y2="904.70" stroke="#000" stroke-width="1.2" />
<line x1="505.65" y1="680.50" x2="505.65" y2="675.80" stroke="#000" stroke-width="1.2" />
<line x1="505.65" y1="900.00" x2="505.65" y2="904.70" stroke="#000" stroke-width="1.2" />
<line x1="512.97" y1="680.50" x2="512.97" y2="675.80" stroke="#000" stroke-width="1.2" />
<line x1="512.97" y1="900.00" x2="512.97" y2="904.70" stroke="#000" stroke-width="1.2" />
<line x1="520.30" y1="680.50" x2="520.30" y2="672.00" stroke="#000" stroke-width="1.2" />
<line x1="520.30" y1="900.00" x2="520.30" y2="908.50" stroke="#000" stroke-width="1.2" />
<line x1="300.50" y1="680.50" x2="292.00" y2="680.50" stroke="#000" stroke-width="1.2" />
<line x1="520.30" y1="680.50" x2="528.80" y2="680.50" stroke="#000" stroke-width="1.2" />
<line x1="300.50" y1="692.69" x2="295.80" y2="692.69" stroke="#000" stroke-width="1.2" />
<line x1="520.30" y1="692.69" x2="525.00" y2="692.69" stroke="#000" stroke-width="1.2" />
<line x1="300.50" y1="704.89" x2="295.80" y2="704.89" stroke="#000" stroke-width="1.2" />
<line x1="520.30" y1="704.89" x2="525.00" y2="704.89" stroke="#000" stroke-width="1.2" />
<line x1="300.50" y1="717.08" x2="292.00" y2="717.08" stroke="#000" stroke-width="1.2" />
<line x1="520.30" y1="717.08" x2="528.80" y2="717.08" stroke="#000" stroke-width="1.2" />
<line x1="300.50" y1="729.28" x2="295.80" y2="729.28" stroke="#000" stroke-width="1.2" />
<line x1="520.30" y1="729.28" x2="525.00" y2="729.28" stroke="#000" stroke-width="1.2" />
<line x1="300.50" y1="741.47" x2="295.80" y2="741.47" stroke="#000" stroke-width="1.2" />
<line x1="520.30" y1="741.47" x2="525.00" y2="741.47" stroke="#000" stroke-width="1.2" />
<line x1="300.50" y1="753.67" x2="292.00" y2="753.67" stroke="#000" stroke-width="1.2" />
<line x1="520.30" y1="753.67" x2="528.80" y2="753.67" stroke="#000" stroke-width="1.2" />
<line x1="300.50" y1="765.86" x2="295.80" y2="765.86" stroke="#000" stroke-width="1.2" />
<line x1="520.30" y1="765.86" x2="525.00" y2="765.86" stroke="#000" stroke-width="1.2" />
<line x1="300.50" y1="778.06" x2="295.80" y2="778.06" stroke="#000" stroke-width="1.2" />
<line x1="520.30" y1="778.06" x2="525.00" y2="778.06" stroke="#000" stroke-width="1.2" />
<line x1="300.50" y1="790.25" x2="292.00" y2="790.25" stroke="#000" stroke-width="1.2" />
<line x1="520.30" y1="790.25" x2="528.80" y2="790.25" stroke="#000" stroke-width="1.2" />
<line x1="300.50" y1="802.44" x2="295.80" y2="802.44" stroke="#000" stroke-width="1.2" />
<line x1="520.30" y1="802.44" x2="525.00" y2="802.44" stroke="#000" stroke-width="1.2" />
<line x1="300.50" y1="814.64" x2="295.80" y2="814.64" stroke="#000" stroke-width="1.2" />
<line x1="520.30" y1="814.64" x2="525.00" y2="814.64" stroke="#000" stroke-width="1.2" />
<line x1="300.50" y1="826.83" x2="292.00" y2="826.83" stroke="#000" stroke-width="1.2" />
<line x1="520.30" y1="826.83" x2="528.80" y2="826.83" stroke="#000" stroke-width="1.2" />
<line x1="300.50" y1="839.03" x2="295.80" y2="839.03" stroke="#000" stroke-width="1.2" />
<line x1="520.30" y1="839.03" x2="525.00" y2="839.03" stroke="#000" stroke-width="1.2" />
<line x1="300.50" y1="851.22" x2="295.80" y2="851.22" stroke="#000" stroke-width="1.2" />
<line x1="520.30" y1="851.22" x2="525.00" y2="851.22" stroke="#000" stroke-width="1.2" />
<line x1="300.50" y1="863.42" x2="292.00" y2="863.42" stroke="#000" stroke-width="1.2" />
<line x1="520.30" y1="863.42" x2="528.80" y2="863.42" stroke="#000" stroke-width="1.2" />
<line x1="300.50" y1="875.61" x2="295.80" y2="875.61" stroke="#000" stroke-width="1.2" />
<line x1="520.30" y1="875.61" x2="525.00" y2="875.61" stroke="#000" stroke-width="1.2" />
<line x1="300.50" y1="887.81" x2="295.80" y2="887.81" stroke="#000" stroke-width="1.2" />
<line x1="520.30" y1="887.81" x2="525.00" y2="887.81" stroke="#000" stroke-width="1.2" />
<line x1="300.50" y1="900.00" x2="292.00" y2="900.00" stroke="#000" stroke-width="1.2" />
<line x1="520.30" y1="900.00" x2="528.80" y2="900.00" stroke="#000" stroke-width="1.2" />
<text x="284.60" y="687.20" font-family='"Liberation Sans", Helvetica, Arial, sans-serif' font-size="19.44" text-anchor="end" font-weight="normal" fill="#000" xml:space="preserve" style="white-space:pre"  stroke="#000" stroke-width="0.3">90</text>
<text x="284.60" y="723.78" font-family='"Liberation Sans", Helvetica, Arial, sans-serif' font-size="19.44" text-anchor="end" font-weight="normal" fill="#000" xml:space="preserve" style="white-space:pre"  stroke="#000" stroke-width="0.3">60</text>
<text x="284.60" y="760.37" font-family='"Liberation Sans", Helvetica, Arial, sans-serif' font-size="19.44" text-anchor="end" font-weight="normal" fill="#000" xml:space="preserve" style="white-space:pre"  stroke="#000" stroke-width="0.3">30</text>
<text x="284.60" y="796.95" font-family='"Liberation Sans", Helvetica, Arial, sans-serif' font-size="19.44" text-anchor="end" font-weight="normal" fill="#000" xml:space="preserve" style="white-space:pre"  stroke="#000" stroke-width="0.3">0</text>
<text x="284.60" y="833.53" font-family='"Liberation Sans", Helvetica, Arial, sans-serif' font-size="19.44" text-anchor="end" font-weight="normal" fill="#000" xml:space="preserve" style="white-space:pre"  stroke="#000" stroke-width="0.3">-30</text>
<text x="284.60" y="870.12" font-family='"Liberation Sans", Helvetica, Arial, sans-serif' font-size="19.44" text-anchor="end" font-weight="normal" fill="#000" xml:space="preserve" style="white-space:pre"  stroke="#000" stroke-width="0.3">-60</text>
<text x="284.60" y="906.70" font-family='"Liberation Sans", Helvetica, Arial, sans-serif' font-size="19.44" text-anchor="end" font-weight="normal" fill="#000" xml:space="preserve" style="white-space:pre"  stroke="#000" stroke-width="0.3">-90</text>
<text x="300.50" y="928.40" font-family='"Liberation Sans", Helvetica, Arial, sans-serif' font-size="19.44" text-anchor="middle" font-weight="normal" fill="#000" xml:space="preserve" style="white-space:pre"  stroke="#000" stroke-width="0.3">0.0</text>
<text x="337.13" y="928.40" font-family='"Liberation Sans", Helvetica, Arial, sans-serif' font-size="19.44" text-anchor="middle" font-weight="normal" fill="#000" xml:space="preserve" style="white-space:pre"  stroke="#000" stroke-width="0.3">0.5</text>
<text x="373.77" y="928.40" font-family='"Liberation Sans", Helvetica, Arial, sans-serif' font-size="19.44" text-anchor="middle" font-weight="normal" fill="#000" xml:space="preserve" style="white-space:pre"  stroke="#000" stroke-width="0.3">1.0</text>
<text x="410.40" y="928.40" font-family='"Liberation Sans", Helvetica, Arial, sans-serif' font-size="19.44" text-anchor="middle" font-weight="normal" fill="#000" xml:space="preserve" style="white-space:pre"  stroke="#000" stroke-width="0.3">1.5</text>
<text x="447.03" y="928.40" font-family='"Liberation Sans", Helvetica, Arial, sans-serif' font-size="19.44" text-anchor="middle" font-weight="normal" fill="#000" xml:space="preserve" style="white-space:pre"  stroke="#000" stroke-width="0.3">2.0</text>
<text x="483.67" y="928.40" font-family='"Liberation Sans", Helvetica, Arial, sans-serif' font-size="19.44" text-anchor="middle" font-weight="normal" fill="#000" xml:space="preserve" style="white-space:pre"  stroke="#000" stroke-width="0.3">2.5</text>
<text x="520.30" y="928.40" font-family='"Liberation Sans", Helvetica, Arial, sans-serif' font-size="19.44" text-anchor="middle" font-weight="normal" fill="#000" xml:space="preserve" style="white-space:pre"  stroke="#000" stroke-width="0.3">3.0</text>
<text x="410.00" y="668.00" font-family='"Liberation Serif", "Times New Roman", serif' font-size="16.67" text-anchor="middle" font-weight="bold" fill="#000" xml:space="preserve" style="white-space:pre"  stroke="#000" stroke-width="0.2"><tspan font-weight="normal">ϕ</tspan>= -36.0 +/- 2.5<tspan font-size="12" dy="-5.5">o</tspan><tspan dy="5.5"> </tspan><tspan font-weight="normal">δ</tspan>t= 1.55 +/-0.17<tspan font-style="italic">s</tspan></text>
<text x="410.00" y="955.20" font-family='"Liberation Serif", "Times New Roman", serif' font-size="16.67" text-anchor="middle" font-weight="bold" fill="#000" xml:space="preserve" style="white-space:pre"  stroke="#000" stroke-width="0.2">Splitting time (<tspan font-style="italic">s</tspan>)</text>
<text transform="translate(247.5,790) rotate(-90)" font-family='"Liberation Serif", "Times New Roman", serif' font-size="16.67" font-weight="bold" text-anchor="middle">Fast direction (degree)</text>
<text x="410.00" y="978.30" font-family='"Liberation Sans", Helvetica, Arial, sans-serif' font-size="19.44" text-anchor="middle" font-weight="normal" fill="#000" xml:space="preserve" style="white-space:pre"  stroke="#000" stroke-width="0.3">Ror= 2.18; Rot= 1.51; Rct= 0.82; Rct/Rot= 0.54</text>
</svg>
</body></html>
